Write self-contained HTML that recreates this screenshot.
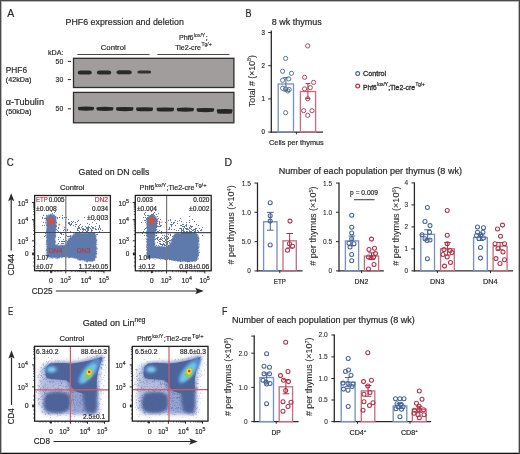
<!DOCTYPE html>
<html><head><meta charset="utf-8"><style>
html,body{margin:0;padding:0;background:#fff;}
body{width:520px;height:454px;overflow:hidden;position:relative;}
svg{position:absolute;left:0;top:0;font-family:'Liberation Sans', sans-serif;will-change:transform;}
#frame{position:absolute;left:0;top:0;width:518px;height:452px;border-left:1px solid #4a4a4a;border-top:1px solid #4a4a4a;border-right:1px solid #444;border-bottom:1px solid #151515;}
#frame2{position:absolute;left:1px;top:1px;width:516px;height:450px;border:1px solid #b8b8b8;}
</style></head><body>
<svg width="520" height="454" viewBox="0 0 520 454" fill="#2a2a2a">
<defs><filter id="bl" x="-30%" y="-100%" width="160%" height="300%"><feGaussianBlur stdDeviation="0.7"/></filter><filter id="bl2" x="-30%" y="-100%" width="160%" height="300%"><feGaussianBlur stdDeviation="0.75"/></filter><filter id="eb2" x="-50%" y="-50%" width="200%" height="200%"><feGaussianBlur stdDeviation="0.9"/></filter><filter id="eb3" x="-50%" y="-50%" width="200%" height="200%"><feGaussianBlur stdDeviation="0.45"/></filter><filter id="ef1" x="-20%" y="-20%" width="140%" height="140%"><feGaussianBlur stdDeviation="2.2"/></filter><filter id="ef2" x="-20%" y="-20%" width="140%" height="140%"><feGaussianBlur stdDeviation="1.4"/></filter><filter id="ef3" x="-20%" y="-20%" width="140%" height="140%"><feGaussianBlur stdDeviation="0.7"/></filter><clipPath id="ec0"><rect x="34.60" y="346.30" width="74.30" height="74.90"/></clipPath><clipPath id="ec1"><rect x="132.30" y="346.40" width="75.70" height="74.70"/></clipPath></defs>
<text x="7.20" y="16.70" font-size="11" textLength="7.00" lengthAdjust="spacingAndGlyphs" stroke="#2a2a2a" stroke-width="0.2">A</text>
<text x="65.60" y="25.40" font-size="9.4" textLength="118.20" lengthAdjust="spacingAndGlyphs" stroke="#2a2a2a" stroke-width="0.2">PHF6 expression and deletion</text>
<text x="100.80" y="49.60" font-size="8" textLength="24.90" lengthAdjust="spacingAndGlyphs" stroke="#2a2a2a" stroke-width="0.2">Control</text>
<text x="178.90" y="40.40" font-size="8.0" textLength="14.70" lengthAdjust="spacingAndGlyphs" stroke="#2a2a2a" stroke-width="0.2">Phf6</text>
<text x="194.00" y="37.04" font-size="5.76" textLength="11.20" lengthAdjust="spacingAndGlyphs" stroke="#2a2a2a" stroke-width="0.16000000000000003">lox/Y</text>
<text x="205.40" y="40.40" font-size="8.0" textLength="2.40" lengthAdjust="spacingAndGlyphs" stroke="#2a2a2a" stroke-width="0.2">;</text>
<text x="175.20" y="49.60" font-size="8.0" textLength="25.80" lengthAdjust="spacingAndGlyphs" stroke="#2a2a2a" stroke-width="0.2">Tie2-cre</text>
<text x="201.40" y="46.24" font-size="5.76" textLength="10.20" lengthAdjust="spacingAndGlyphs" stroke="#2a2a2a" stroke-width="0.16000000000000003">Tg/+</text>
<line x1="77.30" y1="54.50" x2="149.60" y2="54.50" stroke="#4a4a4a" stroke-width="1.2"/>
<line x1="157.30" y1="54.50" x2="229.50" y2="54.50" stroke="#4a4a4a" stroke-width="1.2"/>
<text x="48.00" y="54.80" font-size="7.6" textLength="15.50" lengthAdjust="spacingAndGlyphs" stroke="#2a2a2a" stroke-width="0.2">kDA:</text>
<text x="63.20" y="64.00" font-size="7.4" text-anchor="end" textLength="7.60" lengthAdjust="spacingAndGlyphs" stroke="#2a2a2a" stroke-width="0.2">50</text>
<text x="63.20" y="82.20" font-size="7.4" text-anchor="end" textLength="7.60" lengthAdjust="spacingAndGlyphs" stroke="#2a2a2a" stroke-width="0.2">30</text>
<text x="63.20" y="111.30" font-size="7.4" text-anchor="end" textLength="7.60" lengthAdjust="spacingAndGlyphs" stroke="#2a2a2a" stroke-width="0.2">50</text>
<line x1="67.80" y1="61.40" x2="71.00" y2="61.40" stroke="#2a2a2a" stroke-width="1"/>
<line x1="67.80" y1="79.60" x2="71.00" y2="79.60" stroke="#2a2a2a" stroke-width="1"/>
<line x1="67.80" y1="108.80" x2="71.00" y2="108.80" stroke="#2a2a2a" stroke-width="1"/>
<text x="5.80" y="72.70" font-size="9" textLength="21.20" lengthAdjust="spacingAndGlyphs" stroke="#2a2a2a" stroke-width="0.2">PHF6</text>
<text x="5.80" y="81.90" font-size="7.4" textLength="25.60" lengthAdjust="spacingAndGlyphs" stroke="#2a2a2a" stroke-width="0.2">(42kDa)</text>
<text x="5.80" y="104.80" font-size="9" textLength="38.20" lengthAdjust="spacingAndGlyphs" stroke="#2a2a2a" stroke-width="0.2">α-Tubulin</text>
<text x="5.80" y="113.80" font-size="7.4" textLength="25.60" lengthAdjust="spacingAndGlyphs" stroke="#2a2a2a" stroke-width="0.2">(50kDa)</text>
<rect x="73.50" y="58.30" width="160.40" height="29.20" fill="#a09d9c" stroke="#2d2d2d" stroke-width="1.3"/>
<rect x="73.50" y="92.40" width="160.40" height="30.40" fill="#a09d9c" stroke="#2d2d2d" stroke-width="1.3"/>
<rect x="77.80" y="70.50" width="13.90" height="4.0" rx="2.80" ry="2.00" fill="#2b2b2b" opacity="1.0" filter="url(#bl2)"/>
<rect x="96.90" y="70.50" width="14.30" height="4.0" rx="2.80" ry="2.00" fill="#2b2b2b" opacity="1.0" filter="url(#bl2)"/>
<rect x="116.60" y="70.30" width="15.10" height="4.0" rx="2.80" ry="2.00" fill="#2b2b2b" opacity="1.0" filter="url(#bl2)"/>
<rect x="137.40" y="70.60" width="13.80" height="3.0" rx="2.10" ry="1.50" fill="#2b2b2b" opacity="0.92" filter="url(#bl2)"/>
<path d="M78.20 106.95Q86.00 106.25 93.80 106.95Q94.60 108.60 93.20 110.35Q86.00 111.15 78.80 110.35Q77.40 108.60 78.20 106.95Z" fill="#262626" filter="url(#bl2)"/>
<path d="M96.60 107.15Q104.90 106.45 113.20 107.15Q114.00 108.80 112.60 110.55Q104.90 111.35 97.20 110.55Q95.80 108.80 96.60 107.15Z" fill="#262626" filter="url(#bl2)"/>
<path d="M116.30 107.35Q124.75 106.65 133.20 107.35Q134.00 109.00 132.60 110.75Q124.75 111.55 116.90 110.75Q115.50 109.00 116.30 107.35Z" fill="#262626" filter="url(#bl2)"/>
<path d="M136.30 107.55Q144.55 106.85 152.80 107.55Q153.60 109.20 152.20 110.95Q144.55 111.75 136.90 110.95Q135.50 109.20 136.30 107.55Z" fill="#262626" filter="url(#bl2)"/>
<path d="M156.80 107.75Q165.30 107.05 173.80 107.75Q174.60 109.40 173.20 111.15Q165.30 111.95 157.40 111.15Q156.00 109.40 156.80 107.75Z" fill="#262626" filter="url(#bl2)"/>
<path d="M177.00 107.95Q185.35 107.25 193.70 107.95Q194.50 109.60 193.10 111.35Q185.35 112.15 177.60 111.35Q176.20 109.60 177.00 107.95Z" fill="#262626" filter="url(#bl2)"/>
<path d="M196.90 108.35Q205.40 107.65 213.90 108.35Q214.70 110.00 213.30 111.75Q205.40 112.55 197.50 111.75Q196.10 110.00 196.90 108.35Z" fill="#262626" filter="url(#bl2)"/>
<path d="M217.00 109.30Q224.65 108.60 232.30 109.30Q233.10 111.30 231.70 113.40Q224.65 114.20 217.60 113.40Q216.20 111.30 217.00 109.30Z" fill="#262626" filter="url(#bl2)"/>
<text x="245.60" y="16.50" font-size="10" textLength="6.00" lengthAdjust="spacingAndGlyphs" stroke="#2a2a2a" stroke-width="0.2">B</text>
<text x="271.80" y="24.80" font-size="8.6" textLength="50.00" lengthAdjust="spacingAndGlyphs" stroke="#2a2a2a" stroke-width="0.2">8 wk thymus</text>
<line x1="271.30" y1="30.60" x2="271.30" y2="132.70" stroke="#2a2a2a" stroke-width="1.3"/>
<line x1="270.70" y1="132.10" x2="323.00" y2="132.10" stroke="#2a2a2a" stroke-width="1.3"/>
<line x1="268.20" y1="132.10" x2="271.30" y2="132.10" stroke="#2a2a2a" stroke-width="1"/>
<text x="264.80" y="134.40" font-size="6.6" text-anchor="end" textLength="3.40" lengthAdjust="spacingAndGlyphs" stroke="#2a2a2a" stroke-width="0.2">0</text>
<line x1="268.20" y1="98.90" x2="271.30" y2="98.90" stroke="#2a2a2a" stroke-width="1"/>
<text x="264.80" y="101.20" font-size="6.6" text-anchor="end" textLength="3.40" lengthAdjust="spacingAndGlyphs" stroke="#2a2a2a" stroke-width="0.2">1</text>
<line x1="268.20" y1="65.70" x2="271.30" y2="65.70" stroke="#2a2a2a" stroke-width="1"/>
<text x="264.80" y="68.00" font-size="6.6" text-anchor="end" textLength="3.40" lengthAdjust="spacingAndGlyphs" stroke="#2a2a2a" stroke-width="0.2">2</text>
<line x1="268.20" y1="32.50" x2="271.30" y2="32.50" stroke="#2a2a2a" stroke-width="1"/>
<text x="264.80" y="34.80" font-size="6.6" text-anchor="end" textLength="3.40" lengthAdjust="spacingAndGlyphs" stroke="#2a2a2a" stroke-width="0.2">3</text>
<line x1="296.40" y1="132.10" x2="296.40" y2="134.30" stroke="#2a2a2a" stroke-width="1"/>
<text x="269.00" y="145.00" font-size="7.6" textLength="54.80" lengthAdjust="spacingAndGlyphs" stroke="#2a2a2a" stroke-width="0.2">Cells per thymus</text>
<text x="254.60" y="107.00" font-size="8.2" textLength="52.00" lengthAdjust="spacingAndGlyphs" transform="rotate(-90 254.60 107.00)" stroke="#2a2a2a" stroke-width="0.08"><tspan>Total # (×10</tspan><tspan dy="-3.12" font-size="5.08">8</tspan><tspan dy="3.12">)</tspan></text>
<rect x="278.20" y="84.00" width="15.30" height="48.10" fill="none" stroke="#7b92bc" stroke-width="1.35"/>
<rect x="300.40" y="91.50" width="15.20" height="40.60" fill="none" stroke="#c8707f" stroke-width="1.35"/>
<line x1="285.90" y1="77.60" x2="285.90" y2="91.00" stroke="#476494" stroke-width="1"/>
<line x1="283.40" y1="77.60" x2="288.40" y2="77.60" stroke="#476494" stroke-width="1"/>
<line x1="283.40" y1="91.00" x2="288.40" y2="91.00" stroke="#476494" stroke-width="1"/>
<line x1="307.90" y1="83.60" x2="307.90" y2="98.60" stroke="#ad3249" stroke-width="1"/>
<line x1="305.40" y1="83.60" x2="310.40" y2="83.60" stroke="#ad3249" stroke-width="1"/>
<line x1="305.40" y1="98.60" x2="310.40" y2="98.60" stroke="#ad3249" stroke-width="1"/>
<circle cx="285.60" cy="58.40" r="2.1" fill="none" stroke="#476494" stroke-width="0.9"/>
<circle cx="282.60" cy="71.20" r="2.1" fill="none" stroke="#476494" stroke-width="0.9"/>
<circle cx="291.50" cy="73.30" r="2.1" fill="none" stroke="#476494" stroke-width="0.9"/>
<circle cx="282.60" cy="80.20" r="2.1" fill="none" stroke="#476494" stroke-width="0.9"/>
<circle cx="288.80" cy="78.90" r="2.1" fill="none" stroke="#476494" stroke-width="0.9"/>
<circle cx="282.60" cy="88.20" r="2.1" fill="none" stroke="#476494" stroke-width="0.9"/>
<circle cx="285.60" cy="88.90" r="2.1" fill="none" stroke="#476494" stroke-width="0.9"/>
<circle cx="287.80" cy="90.90" r="2.1" fill="none" stroke="#476494" stroke-width="0.9"/>
<circle cx="289.20" cy="89.50" r="2.1" fill="none" stroke="#476494" stroke-width="0.9"/>
<circle cx="285.60" cy="112.70" r="2.1" fill="none" stroke="#476494" stroke-width="0.9"/>
<circle cx="307.70" cy="45.90" r="2.1" fill="none" stroke="#ad3249" stroke-width="0.9"/>
<circle cx="304.60" cy="77.30" r="2.1" fill="none" stroke="#ad3249" stroke-width="0.9"/>
<circle cx="313.60" cy="82.40" r="2.1" fill="none" stroke="#ad3249" stroke-width="0.9"/>
<circle cx="304.60" cy="88.90" r="2.1" fill="none" stroke="#ad3249" stroke-width="0.9"/>
<circle cx="310.30" cy="87.60" r="2.1" fill="none" stroke="#ad3249" stroke-width="0.9"/>
<circle cx="307.70" cy="98.80" r="2.1" fill="none" stroke="#ad3249" stroke-width="0.9"/>
<circle cx="303.70" cy="110.70" r="2.1" fill="none" stroke="#ad3249" stroke-width="0.9"/>
<circle cx="312.00" cy="110.70" r="2.1" fill="none" stroke="#ad3249" stroke-width="0.9"/>
<circle cx="307.70" cy="115.30" r="2.1" fill="none" stroke="#ad3249" stroke-width="0.9"/>
<circle cx="357.70" cy="73.60" r="1.9" fill="none" stroke="#476494" stroke-width="1.2"/>
<circle cx="357.70" cy="86.10" r="1.9" fill="none" stroke="#ad3249" stroke-width="1.2"/>
<text x="363.10" y="76.10" font-size="7.4" textLength="23.10" lengthAdjust="spacingAndGlyphs" stroke="#2a2a2a" stroke-width="0.3">Control</text>
<text x="363.10" y="89.60" font-size="7.4" textLength="13.70" lengthAdjust="spacingAndGlyphs" stroke="#2a2a2a" stroke-width="0.3">Phf6</text>
<text x="377.20" y="86.49" font-size="5.328" textLength="10.80" lengthAdjust="spacingAndGlyphs" stroke="#2a2a2a" stroke-width="0.24">lox/Y</text>
<text x="388.20" y="89.60" font-size="7.4" textLength="27.00" lengthAdjust="spacingAndGlyphs" stroke="#2a2a2a" stroke-width="0.3">;Tie2-cre</text>
<text x="415.50" y="86.49" font-size="5.328" textLength="9.20" lengthAdjust="spacingAndGlyphs" stroke="#2a2a2a" stroke-width="0.24">Tg/+</text>
<text x="224.60" y="165.60" font-size="10.4" textLength="7.60" lengthAdjust="spacingAndGlyphs" stroke="#2a2a2a" stroke-width="0.2">D</text>
<text x="278.80" y="173.60" font-size="8.8" textLength="183.20" lengthAdjust="spacingAndGlyphs" stroke="#2a2a2a" stroke-width="0.2">Number of each population per thymus (8 wk)</text>
<line x1="257.50" y1="182.60" x2="257.50" y2="271.50" stroke="#2a2a2a" stroke-width="1.3"/>
<line x1="256.90" y1="270.90" x2="302.50" y2="270.90" stroke="#2a2a2a" stroke-width="1.3"/>
<line x1="254.50" y1="270.90" x2="257.50" y2="270.90" stroke="#2a2a2a" stroke-width="1"/>
<text x="250.90" y="273.30" font-size="7.0" text-anchor="end" textLength="3.60" lengthAdjust="spacingAndGlyphs" stroke="#2a2a2a" stroke-width="0.1">0</text>
<line x1="254.50" y1="241.60" x2="257.50" y2="241.60" stroke="#2a2a2a" stroke-width="1"/>
<text x="250.90" y="244.00" font-size="7.0" text-anchor="end" textLength="9.20" lengthAdjust="spacingAndGlyphs" stroke="#2a2a2a" stroke-width="0.1">5.0</text>
<line x1="254.50" y1="212.30" x2="257.50" y2="212.30" stroke="#2a2a2a" stroke-width="1"/>
<text x="250.90" y="214.70" font-size="7.0" text-anchor="end" textLength="9.20" lengthAdjust="spacingAndGlyphs" stroke="#2a2a2a" stroke-width="0.1">1.0</text>
<line x1="254.50" y1="183.10" x2="257.50" y2="183.10" stroke="#2a2a2a" stroke-width="1"/>
<text x="250.90" y="185.50" font-size="7.0" text-anchor="end" textLength="9.20" lengthAdjust="spacingAndGlyphs" stroke="#2a2a2a" stroke-width="0.1">1.5</text>
<line x1="279.80" y1="270.90" x2="279.80" y2="273.10" stroke="#2a2a2a" stroke-width="1"/>
<text x="234.20" y="264.60" font-size="8.4" textLength="79.30" lengthAdjust="spacingAndGlyphs" transform="rotate(-90 234.20 264.60)" stroke="#2a2a2a" stroke-width="0.06"><tspan># per thymus (×10</tspan><tspan dy="-3.19" font-size="5.21">4</tspan><tspan dy="3.19">)</tspan></text>
<text x="273.80" y="283.60" font-size="7.0" textLength="12.00" lengthAdjust="spacingAndGlyphs" stroke="#2a2a2a" stroke-width="0.2">ETP</text>
<rect x="263.60" y="221.80" width="13.40" height="49.10" fill="none" stroke="#7b92bc" stroke-width="1.35"/>
<line x1="270.30" y1="212.40" x2="270.30" y2="230.20" stroke="#476494" stroke-width="1"/>
<line x1="267.00" y1="212.40" x2="273.60" y2="212.40" stroke="#476494" stroke-width="1"/>
<line x1="267.00" y1="230.20" x2="273.60" y2="230.20" stroke="#476494" stroke-width="1"/>
<circle cx="270.20" cy="202.80" r="2.0" fill="none" stroke="#476494" stroke-width="1.05"/>
<circle cx="270.20" cy="215.70" r="2.0" fill="none" stroke="#476494" stroke-width="1.05"/>
<circle cx="270.20" cy="221.10" r="2.0" fill="none" stroke="#476494" stroke-width="1.05"/>
<circle cx="270.20" cy="244.90" r="2.0" fill="none" stroke="#476494" stroke-width="1.05"/>
<rect x="283.00" y="240.80" width="13.30" height="30.10" fill="none" stroke="#c8707f" stroke-width="1.35"/>
<line x1="289.65" y1="233.50" x2="289.65" y2="248.00" stroke="#ad3249" stroke-width="1"/>
<line x1="286.35" y1="233.50" x2="292.95" y2="233.50" stroke="#ad3249" stroke-width="1"/>
<line x1="286.35" y1="248.00" x2="292.95" y2="248.00" stroke="#ad3249" stroke-width="1"/>
<circle cx="290.00" cy="221.10" r="2.0" fill="none" stroke="#ad3249" stroke-width="1.05"/>
<circle cx="289.50" cy="243.70" r="2.0" fill="none" stroke="#ad3249" stroke-width="1.05"/>
<circle cx="292.50" cy="246.20" r="2.0" fill="none" stroke="#ad3249" stroke-width="1.05"/>
<circle cx="287.50" cy="250.30" r="2.0" fill="none" stroke="#ad3249" stroke-width="1.05"/>
<line x1="339.00" y1="182.60" x2="339.00" y2="271.50" stroke="#2a2a2a" stroke-width="1.3"/>
<line x1="338.40" y1="270.90" x2="383.90" y2="270.90" stroke="#2a2a2a" stroke-width="1.3"/>
<line x1="336.00" y1="270.90" x2="339.00" y2="270.90" stroke="#2a2a2a" stroke-width="1"/>
<text x="332.20" y="273.30" font-size="7.0" text-anchor="end" textLength="3.60" lengthAdjust="spacingAndGlyphs" stroke="#2a2a2a" stroke-width="0.1">0</text>
<line x1="336.00" y1="241.60" x2="339.00" y2="241.60" stroke="#2a2a2a" stroke-width="1"/>
<text x="332.20" y="244.00" font-size="7.0" text-anchor="end" textLength="9.20" lengthAdjust="spacingAndGlyphs" stroke="#2a2a2a" stroke-width="0.1">0.5</text>
<line x1="336.00" y1="212.30" x2="339.00" y2="212.30" stroke="#2a2a2a" stroke-width="1"/>
<text x="332.20" y="214.70" font-size="7.0" text-anchor="end" textLength="9.20" lengthAdjust="spacingAndGlyphs" stroke="#2a2a2a" stroke-width="0.1">1.0</text>
<line x1="336.00" y1="183.10" x2="339.00" y2="183.10" stroke="#2a2a2a" stroke-width="1"/>
<text x="332.20" y="185.50" font-size="7.0" text-anchor="end" textLength="9.20" lengthAdjust="spacingAndGlyphs" stroke="#2a2a2a" stroke-width="0.1">1.5</text>
<line x1="361.60" y1="270.90" x2="361.60" y2="273.10" stroke="#2a2a2a" stroke-width="1"/>
<text x="316.40" y="265.70" font-size="8.4" textLength="79.30" lengthAdjust="spacingAndGlyphs" transform="rotate(-90 316.40 265.70)" stroke="#2a2a2a" stroke-width="0.06"><tspan># per thymus (×10</tspan><tspan dy="-3.19" font-size="5.21">5</tspan><tspan dy="3.19">)</tspan></text>
<text x="354.50" y="283.60" font-size="7.0" textLength="13.90" lengthAdjust="spacingAndGlyphs" stroke="#2a2a2a" stroke-width="0.2">DN2</text>
<rect x="345.40" y="240.90" width="13.20" height="30.00" fill="none" stroke="#7b92bc" stroke-width="1.35"/>
<line x1="352.00" y1="236.00" x2="352.00" y2="245.80" stroke="#476494" stroke-width="1"/>
<line x1="348.70" y1="236.00" x2="355.30" y2="236.00" stroke="#476494" stroke-width="1"/>
<line x1="348.70" y1="245.80" x2="355.30" y2="245.80" stroke="#476494" stroke-width="1"/>
<circle cx="351.70" cy="215.20" r="2.0" fill="none" stroke="#476494" stroke-width="1.05"/>
<circle cx="351.70" cy="227.20" r="2.0" fill="none" stroke="#476494" stroke-width="1.05"/>
<circle cx="351.70" cy="233.00" r="2.0" fill="none" stroke="#476494" stroke-width="1.05"/>
<circle cx="351.70" cy="238.80" r="2.0" fill="none" stroke="#476494" stroke-width="1.05"/>
<circle cx="349.00" cy="243.20" r="2.0" fill="none" stroke="#476494" stroke-width="1.05"/>
<circle cx="354.00" cy="243.70" r="2.0" fill="none" stroke="#476494" stroke-width="1.05"/>
<circle cx="350.00" cy="247.00" r="2.0" fill="none" stroke="#476494" stroke-width="1.05"/>
<circle cx="351.70" cy="254.50" r="2.0" fill="none" stroke="#476494" stroke-width="1.05"/>
<circle cx="351.70" cy="260.70" r="2.0" fill="none" stroke="#476494" stroke-width="1.05"/>
<rect x="364.40" y="256.10" width="14.20" height="14.80" fill="none" stroke="#c8707f" stroke-width="1.35"/>
<line x1="371.50" y1="252.80" x2="371.50" y2="259.40" stroke="#ad3249" stroke-width="1"/>
<line x1="368.20" y1="252.80" x2="374.80" y2="252.80" stroke="#ad3249" stroke-width="1"/>
<line x1="368.20" y1="259.40" x2="374.80" y2="259.40" stroke="#ad3249" stroke-width="1"/>
<circle cx="371.50" cy="239.10" r="2.0" fill="none" stroke="#ad3249" stroke-width="1.05"/>
<circle cx="369.00" cy="249.50" r="2.0" fill="none" stroke="#ad3249" stroke-width="1.05"/>
<circle cx="374.50" cy="248.30" r="2.0" fill="none" stroke="#ad3249" stroke-width="1.05"/>
<circle cx="375.50" cy="253.60" r="2.0" fill="none" stroke="#ad3249" stroke-width="1.05"/>
<circle cx="368.50" cy="256.90" r="2.0" fill="none" stroke="#ad3249" stroke-width="1.05"/>
<circle cx="371.00" cy="257.80" r="2.0" fill="none" stroke="#ad3249" stroke-width="1.05"/>
<circle cx="373.50" cy="256.90" r="2.0" fill="none" stroke="#ad3249" stroke-width="1.05"/>
<circle cx="374.00" cy="264.40" r="2.0" fill="none" stroke="#ad3249" stroke-width="1.05"/>
<circle cx="368.50" cy="269.00" r="2.0" fill="none" stroke="#ad3249" stroke-width="1.05"/>
<text x="350.10" y="194.90" font-size="6.6" textLength="27.90" lengthAdjust="spacingAndGlyphs" stroke="#2a2a2a" stroke-width="0.2">p = 0.009</text>
<line x1="354.00" y1="199.70" x2="374.60" y2="199.70" stroke="#444" stroke-width="1.1"/>
<line x1="414.40" y1="182.40" x2="414.40" y2="271.50" stroke="#2a2a2a" stroke-width="1.3"/>
<line x1="413.80" y1="270.90" x2="513.10" y2="270.90" stroke="#2a2a2a" stroke-width="1.3"/>
<line x1="411.40" y1="270.90" x2="414.40" y2="270.90" stroke="#2a2a2a" stroke-width="1"/>
<text x="408.00" y="273.30" font-size="7.0" text-anchor="end" textLength="3.60" lengthAdjust="spacingAndGlyphs" stroke="#2a2a2a" stroke-width="0.1">0</text>
<line x1="411.40" y1="248.90" x2="414.40" y2="248.90" stroke="#2a2a2a" stroke-width="1"/>
<text x="408.00" y="251.30" font-size="7.0" text-anchor="end" textLength="3.60" lengthAdjust="spacingAndGlyphs" stroke="#2a2a2a" stroke-width="0.1">1</text>
<line x1="411.40" y1="226.90" x2="414.40" y2="226.90" stroke="#2a2a2a" stroke-width="1"/>
<text x="408.00" y="229.30" font-size="7.0" text-anchor="end" textLength="3.60" lengthAdjust="spacingAndGlyphs" stroke="#2a2a2a" stroke-width="0.1">2</text>
<line x1="411.40" y1="204.90" x2="414.40" y2="204.90" stroke="#2a2a2a" stroke-width="1"/>
<text x="408.00" y="207.30" font-size="7.0" text-anchor="end" textLength="3.60" lengthAdjust="spacingAndGlyphs" stroke="#2a2a2a" stroke-width="0.1">3</text>
<line x1="411.40" y1="182.90" x2="414.40" y2="182.90" stroke="#2a2a2a" stroke-width="1"/>
<text x="408.00" y="185.30" font-size="7.0" text-anchor="end" textLength="3.60" lengthAdjust="spacingAndGlyphs" stroke="#2a2a2a" stroke-width="0.1">4</text>
<line x1="437.40" y1="270.90" x2="437.40" y2="273.10" stroke="#2a2a2a" stroke-width="1"/>
<line x1="490.50" y1="270.90" x2="490.50" y2="273.10" stroke="#2a2a2a" stroke-width="1"/>
<text x="399.20" y="265.70" font-size="8.4" textLength="79.30" lengthAdjust="spacingAndGlyphs" transform="rotate(-90 399.20 265.70)" stroke="#2a2a2a" stroke-width="0.06"><tspan># per thymus (×10</tspan><tspan dy="-3.19" font-size="5.21">6</tspan><tspan dy="3.19">)</tspan></text>
<text x="430.00" y="283.60" font-size="7.0" textLength="14.50" lengthAdjust="spacingAndGlyphs" stroke="#2a2a2a" stroke-width="0.2">DN3</text>
<text x="483.00" y="283.60" font-size="7.0" textLength="14.60" lengthAdjust="spacingAndGlyphs" stroke="#2a2a2a" stroke-width="0.2">DN4</text>
<rect x="420.80" y="234.40" width="13.70" height="36.50" fill="none" stroke="#7b92bc" stroke-width="1.35"/>
<line x1="427.65" y1="229.80" x2="427.65" y2="239.00" stroke="#476494" stroke-width="1"/>
<line x1="424.35" y1="229.80" x2="430.95" y2="229.80" stroke="#476494" stroke-width="1"/>
<line x1="424.35" y1="239.00" x2="430.95" y2="239.00" stroke="#476494" stroke-width="1"/>
<circle cx="427.40" cy="207.40" r="2.0" fill="none" stroke="#476494" stroke-width="1.05"/>
<circle cx="425.00" cy="221.50" r="2.0" fill="none" stroke="#476494" stroke-width="1.05"/>
<circle cx="430.00" cy="225.60" r="2.0" fill="none" stroke="#476494" stroke-width="1.05"/>
<circle cx="429.50" cy="232.20" r="2.0" fill="none" stroke="#476494" stroke-width="1.05"/>
<circle cx="422.00" cy="234.70" r="2.0" fill="none" stroke="#476494" stroke-width="1.05"/>
<circle cx="425.00" cy="238.80" r="2.0" fill="none" stroke="#476494" stroke-width="1.05"/>
<circle cx="427.00" cy="240.50" r="2.0" fill="none" stroke="#476494" stroke-width="1.05"/>
<circle cx="430.00" cy="240.00" r="2.0" fill="none" stroke="#476494" stroke-width="1.05"/>
<circle cx="427.40" cy="258.70" r="2.0" fill="none" stroke="#476494" stroke-width="1.05"/>
<rect x="440.60" y="248.80" width="13.70" height="22.10" fill="none" stroke="#c8707f" stroke-width="1.35"/>
<line x1="447.45" y1="242.60" x2="447.45" y2="255.00" stroke="#ad3249" stroke-width="1"/>
<line x1="444.15" y1="242.60" x2="450.75" y2="242.60" stroke="#ad3249" stroke-width="1"/>
<line x1="444.15" y1="255.00" x2="450.75" y2="255.00" stroke="#ad3249" stroke-width="1"/>
<circle cx="447.20" cy="210.40" r="2.0" fill="none" stroke="#ad3249" stroke-width="1.05"/>
<circle cx="447.20" cy="235.20" r="2.0" fill="none" stroke="#ad3249" stroke-width="1.05"/>
<circle cx="447.20" cy="243.80" r="2.0" fill="none" stroke="#ad3249" stroke-width="1.05"/>
<circle cx="444.00" cy="249.60" r="2.0" fill="none" stroke="#ad3249" stroke-width="1.05"/>
<circle cx="450.00" cy="250.40" r="2.0" fill="none" stroke="#ad3249" stroke-width="1.05"/>
<circle cx="452.00" cy="252.60" r="2.0" fill="none" stroke="#ad3249" stroke-width="1.05"/>
<circle cx="443.00" cy="254.50" r="2.0" fill="none" stroke="#ad3249" stroke-width="1.05"/>
<circle cx="447.20" cy="257.00" r="2.0" fill="none" stroke="#ad3249" stroke-width="1.05"/>
<circle cx="450.50" cy="262.50" r="2.0" fill="none" stroke="#ad3249" stroke-width="1.05"/>
<circle cx="444.50" cy="266.10" r="2.0" fill="none" stroke="#ad3249" stroke-width="1.05"/>
<rect x="473.60" y="237.50" width="13.70" height="33.40" fill="none" stroke="#7b92bc" stroke-width="1.35"/>
<line x1="480.45" y1="234.50" x2="480.45" y2="240.50" stroke="#476494" stroke-width="1"/>
<line x1="477.15" y1="234.50" x2="483.75" y2="234.50" stroke="#476494" stroke-width="1"/>
<line x1="477.15" y1="240.50" x2="483.75" y2="240.50" stroke="#476494" stroke-width="1"/>
<circle cx="477.50" cy="226.90" r="2.0" fill="none" stroke="#476494" stroke-width="1.05"/>
<circle cx="483.50" cy="227.70" r="2.0" fill="none" stroke="#476494" stroke-width="1.05"/>
<circle cx="477.50" cy="232.20" r="2.0" fill="none" stroke="#476494" stroke-width="1.05"/>
<circle cx="483.00" cy="232.20" r="2.0" fill="none" stroke="#476494" stroke-width="1.05"/>
<circle cx="476.50" cy="235.50" r="2.0" fill="none" stroke="#476494" stroke-width="1.05"/>
<circle cx="481.00" cy="234.70" r="2.0" fill="none" stroke="#476494" stroke-width="1.05"/>
<circle cx="483.50" cy="238.00" r="2.0" fill="none" stroke="#476494" stroke-width="1.05"/>
<circle cx="479.00" cy="238.40" r="2.0" fill="none" stroke="#476494" stroke-width="1.05"/>
<circle cx="480.50" cy="247.50" r="2.0" fill="none" stroke="#476494" stroke-width="1.05"/>
<circle cx="480.50" cy="258.10" r="2.0" fill="none" stroke="#476494" stroke-width="1.05"/>
<rect x="493.10" y="246.20" width="14.00" height="24.70" fill="none" stroke="#c8707f" stroke-width="1.35"/>
<line x1="500.10" y1="242.60" x2="500.10" y2="249.80" stroke="#ad3249" stroke-width="1"/>
<line x1="496.80" y1="242.60" x2="503.40" y2="242.60" stroke="#ad3249" stroke-width="1"/>
<line x1="496.80" y1="249.80" x2="503.40" y2="249.80" stroke="#ad3249" stroke-width="1"/>
<circle cx="502.50" cy="225.10" r="2.0" fill="none" stroke="#ad3249" stroke-width="1.05"/>
<circle cx="497.50" cy="228.90" r="2.0" fill="none" stroke="#ad3249" stroke-width="1.05"/>
<circle cx="500.50" cy="236.30" r="2.0" fill="none" stroke="#ad3249" stroke-width="1.05"/>
<circle cx="495.00" cy="243.70" r="2.0" fill="none" stroke="#ad3249" stroke-width="1.05"/>
<circle cx="504.50" cy="243.70" r="2.0" fill="none" stroke="#ad3249" stroke-width="1.05"/>
<circle cx="498.00" cy="248.70" r="2.0" fill="none" stroke="#ad3249" stroke-width="1.05"/>
<circle cx="503.00" cy="252.00" r="2.0" fill="none" stroke="#ad3249" stroke-width="1.05"/>
<circle cx="496.00" cy="258.60" r="2.0" fill="none" stroke="#ad3249" stroke-width="1.05"/>
<circle cx="504.50" cy="259.70" r="2.0" fill="none" stroke="#ad3249" stroke-width="1.05"/>
<circle cx="500.00" cy="263.50" r="2.0" fill="none" stroke="#ad3249" stroke-width="1.05"/>
<text x="222.00" y="315.00" font-size="10" textLength="5.40" lengthAdjust="spacingAndGlyphs" stroke="#2a2a2a" stroke-width="0.2">F</text>
<text x="231.90" y="323.40" font-size="8.8" textLength="183.00" lengthAdjust="spacingAndGlyphs" stroke="#2a2a2a" stroke-width="0.2">Number of each population per thymus (8 wk)</text>
<line x1="254.20" y1="335.60" x2="254.20" y2="422.20" stroke="#2a2a2a" stroke-width="1.3"/>
<line x1="253.60" y1="421.60" x2="298.60" y2="421.60" stroke="#2a2a2a" stroke-width="1.3"/>
<line x1="251.20" y1="421.60" x2="254.20" y2="421.60" stroke="#2a2a2a" stroke-width="1"/>
<text x="247.60" y="424.00" font-size="7.0" text-anchor="end" textLength="3.60" lengthAdjust="spacingAndGlyphs" stroke="#2a2a2a" stroke-width="0.1">0</text>
<line x1="251.20" y1="387.40" x2="254.20" y2="387.40" stroke="#2a2a2a" stroke-width="1"/>
<text x="247.60" y="389.80" font-size="7.0" text-anchor="end" textLength="9.20" lengthAdjust="spacingAndGlyphs" stroke="#2a2a2a" stroke-width="0.1">1.0</text>
<line x1="251.20" y1="353.20" x2="254.20" y2="353.20" stroke="#2a2a2a" stroke-width="1"/>
<text x="247.60" y="355.60" font-size="7.0" text-anchor="end" textLength="9.20" lengthAdjust="spacingAndGlyphs" stroke="#2a2a2a" stroke-width="0.1">2.0</text>
<line x1="251.20" y1="336.10" x2="254.20" y2="336.10" stroke="#2a2a2a" stroke-width="1"/>
<line x1="276.20" y1="421.60" x2="276.20" y2="423.80" stroke="#2a2a2a" stroke-width="1"/>
<text x="231.40" y="416.10" font-size="8.4" textLength="78.60" lengthAdjust="spacingAndGlyphs" transform="rotate(-90 231.40 416.10)" stroke="#2a2a2a" stroke-width="0.06"><tspan># per thymus (×10</tspan><tspan dy="-3.19" font-size="5.21">8</tspan><tspan dy="3.19">)</tspan></text>
<text x="271.50" y="434.60" font-size="7.0" textLength="9.30" lengthAdjust="spacingAndGlyphs" stroke="#2a2a2a" stroke-width="0.2">DP</text>
<rect x="259.90" y="377.50" width="13.60" height="44.10" fill="none" stroke="#7b92bc" stroke-width="1.35"/>
<line x1="266.70" y1="373.00" x2="266.70" y2="382.00" stroke="#476494" stroke-width="1"/>
<line x1="263.40" y1="373.00" x2="270.00" y2="373.00" stroke="#476494" stroke-width="1"/>
<line x1="263.40" y1="382.00" x2="270.00" y2="382.00" stroke="#476494" stroke-width="1"/>
<circle cx="266.60" cy="353.70" r="2.0" fill="none" stroke="#476494" stroke-width="1.05"/>
<circle cx="264.00" cy="366.20" r="2.0" fill="none" stroke="#476494" stroke-width="1.05"/>
<circle cx="269.50" cy="367.20" r="2.0" fill="none" stroke="#476494" stroke-width="1.05"/>
<circle cx="264.00" cy="373.70" r="2.0" fill="none" stroke="#476494" stroke-width="1.05"/>
<circle cx="269.50" cy="373.70" r="2.0" fill="none" stroke="#476494" stroke-width="1.05"/>
<circle cx="263.00" cy="380.30" r="2.0" fill="none" stroke="#476494" stroke-width="1.05"/>
<circle cx="266.00" cy="382.10" r="2.0" fill="none" stroke="#476494" stroke-width="1.05"/>
<circle cx="270.00" cy="383.40" r="2.0" fill="none" stroke="#476494" stroke-width="1.05"/>
<circle cx="266.60" cy="384.00" r="2.0" fill="none" stroke="#476494" stroke-width="1.05"/>
<circle cx="266.60" cy="403.70" r="2.0" fill="none" stroke="#476494" stroke-width="1.05"/>
<rect x="279.20" y="386.80" width="13.40" height="34.80" fill="none" stroke="#c8707f" stroke-width="1.35"/>
<line x1="285.90" y1="379.70" x2="285.90" y2="393.80" stroke="#ad3249" stroke-width="1"/>
<line x1="282.60" y1="379.70" x2="289.20" y2="379.70" stroke="#ad3249" stroke-width="1"/>
<line x1="282.60" y1="393.80" x2="289.20" y2="393.80" stroke="#ad3249" stroke-width="1"/>
<circle cx="285.70" cy="342.20" r="2.0" fill="none" stroke="#ad3249" stroke-width="1.05"/>
<circle cx="288.00" cy="371.50" r="2.0" fill="none" stroke="#ad3249" stroke-width="1.05"/>
<circle cx="280.50" cy="375.60" r="2.0" fill="none" stroke="#ad3249" stroke-width="1.05"/>
<circle cx="283.50" cy="380.30" r="2.0" fill="none" stroke="#ad3249" stroke-width="1.05"/>
<circle cx="288.50" cy="381.60" r="2.0" fill="none" stroke="#ad3249" stroke-width="1.05"/>
<circle cx="285.70" cy="390.60" r="2.0" fill="none" stroke="#ad3249" stroke-width="1.05"/>
<circle cx="283.00" cy="401.80" r="2.0" fill="none" stroke="#ad3249" stroke-width="1.05"/>
<circle cx="291.00" cy="402.20" r="2.0" fill="none" stroke="#ad3249" stroke-width="1.05"/>
<circle cx="288.00" cy="406.50" r="2.0" fill="none" stroke="#ad3249" stroke-width="1.05"/>
<circle cx="283.00" cy="411.20" r="2.0" fill="none" stroke="#ad3249" stroke-width="1.05"/>
<line x1="334.30" y1="334.50" x2="334.30" y2="422.20" stroke="#2a2a2a" stroke-width="1.3"/>
<line x1="333.70" y1="421.60" x2="431.10" y2="421.60" stroke="#2a2a2a" stroke-width="1.3"/>
<line x1="331.30" y1="421.60" x2="334.30" y2="421.60" stroke="#2a2a2a" stroke-width="1"/>
<text x="327.80" y="424.00" font-size="7.0" text-anchor="end" textLength="3.60" lengthAdjust="spacingAndGlyphs" stroke="#2a2a2a" stroke-width="0.1">0</text>
<line x1="331.30" y1="400.00" x2="334.30" y2="400.00" stroke="#2a2a2a" stroke-width="1"/>
<text x="327.80" y="402.40" font-size="7.0" text-anchor="end" textLength="9.20" lengthAdjust="spacingAndGlyphs" stroke="#2a2a2a" stroke-width="0.1">0.5</text>
<line x1="331.30" y1="378.50" x2="334.30" y2="378.50" stroke="#2a2a2a" stroke-width="1"/>
<text x="327.80" y="380.90" font-size="7.0" text-anchor="end" textLength="9.20" lengthAdjust="spacingAndGlyphs" stroke="#2a2a2a" stroke-width="0.1">1.0</text>
<line x1="331.30" y1="356.90" x2="334.30" y2="356.90" stroke="#2a2a2a" stroke-width="1"/>
<text x="327.80" y="359.30" font-size="7.0" text-anchor="end" textLength="9.20" lengthAdjust="spacingAndGlyphs" stroke="#2a2a2a" stroke-width="0.1">1.5</text>
<line x1="331.30" y1="335.00" x2="334.30" y2="335.00" stroke="#2a2a2a" stroke-width="1"/>
<text x="327.80" y="337.40" font-size="7.0" text-anchor="end" textLength="9.20" lengthAdjust="spacingAndGlyphs" stroke="#2a2a2a" stroke-width="0.1">2.0</text>
<line x1="357.50" y1="421.60" x2="357.50" y2="423.80" stroke="#2a2a2a" stroke-width="1"/>
<line x1="410.00" y1="421.60" x2="410.00" y2="423.80" stroke="#2a2a2a" stroke-width="1"/>
<text x="311.90" y="416.10" font-size="8.4" textLength="78.60" lengthAdjust="spacingAndGlyphs" transform="rotate(-90 311.90 416.10)" stroke="#2a2a2a" stroke-width="0.06"><tspan># per thymus (×10</tspan><tspan dy="-3.19" font-size="5.21">7</tspan><tspan dy="3.19">)</tspan></text>
<text x="349.50" y="434.50" font-size="7.0" textLength="16.90" lengthAdjust="spacingAndGlyphs" stroke="#2a2a2a" stroke-width="0.2"><tspan>CD4</tspan><tspan dy="-2.66" font-size="4.34">+</tspan></text>
<text x="400.90" y="434.50" font-size="7.0" textLength="16.90" lengthAdjust="spacingAndGlyphs" stroke="#2a2a2a" stroke-width="0.2"><tspan>CD8</tspan><tspan dy="-2.66" font-size="4.34">+</tspan></text>
<rect x="341.20" y="382.10" width="13.90" height="39.50" fill="none" stroke="#7b92bc" stroke-width="1.35"/>
<line x1="348.15" y1="377.50" x2="348.15" y2="386.70" stroke="#476494" stroke-width="1"/>
<line x1="344.85" y1="377.50" x2="351.45" y2="377.50" stroke="#476494" stroke-width="1"/>
<line x1="344.85" y1="386.70" x2="351.45" y2="386.70" stroke="#476494" stroke-width="1"/>
<circle cx="348.20" cy="358.40" r="2.0" fill="none" stroke="#476494" stroke-width="1.05"/>
<circle cx="345.50" cy="371.50" r="2.0" fill="none" stroke="#476494" stroke-width="1.05"/>
<circle cx="348.50" cy="370.00" r="2.0" fill="none" stroke="#476494" stroke-width="1.05"/>
<circle cx="351.00" cy="375.20" r="2.0" fill="none" stroke="#476494" stroke-width="1.05"/>
<circle cx="343.00" cy="383.10" r="2.0" fill="none" stroke="#476494" stroke-width="1.05"/>
<circle cx="348.00" cy="383.40" r="2.0" fill="none" stroke="#476494" stroke-width="1.05"/>
<circle cx="353.00" cy="384.00" r="2.0" fill="none" stroke="#476494" stroke-width="1.05"/>
<circle cx="343.50" cy="389.10" r="2.0" fill="none" stroke="#476494" stroke-width="1.05"/>
<circle cx="348.00" cy="390.20" r="2.0" fill="none" stroke="#476494" stroke-width="1.05"/>
<circle cx="352.00" cy="386.40" r="2.0" fill="none" stroke="#476494" stroke-width="1.05"/>
<circle cx="348.20" cy="406.50" r="2.0" fill="none" stroke="#476494" stroke-width="1.05"/>
<rect x="361.30" y="390.90" width="13.50" height="30.70" fill="none" stroke="#c8707f" stroke-width="1.35"/>
<line x1="368.05" y1="385.50" x2="368.05" y2="396.30" stroke="#ad3249" stroke-width="1"/>
<line x1="364.75" y1="385.50" x2="371.35" y2="385.50" stroke="#ad3249" stroke-width="1"/>
<line x1="364.75" y1="396.30" x2="371.35" y2="396.30" stroke="#ad3249" stroke-width="1"/>
<circle cx="367.80" cy="352.70" r="2.0" fill="none" stroke="#ad3249" stroke-width="1.05"/>
<circle cx="363.50" cy="381.60" r="2.0" fill="none" stroke="#ad3249" stroke-width="1.05"/>
<circle cx="371.50" cy="380.30" r="2.0" fill="none" stroke="#ad3249" stroke-width="1.05"/>
<circle cx="367.80" cy="385.90" r="2.0" fill="none" stroke="#ad3249" stroke-width="1.05"/>
<circle cx="364.00" cy="394.30" r="2.0" fill="none" stroke="#ad3249" stroke-width="1.05"/>
<circle cx="370.00" cy="392.40" r="2.0" fill="none" stroke="#ad3249" stroke-width="1.05"/>
<circle cx="364.00" cy="401.80" r="2.0" fill="none" stroke="#ad3249" stroke-width="1.05"/>
<circle cx="373.00" cy="402.70" r="2.0" fill="none" stroke="#ad3249" stroke-width="1.05"/>
<circle cx="369.50" cy="405.50" r="2.0" fill="none" stroke="#ad3249" stroke-width="1.05"/>
<circle cx="363.00" cy="410.20" r="2.0" fill="none" stroke="#ad3249" stroke-width="1.05"/>
<rect x="393.20" y="406.00" width="13.60" height="15.60" fill="none" stroke="#7b92bc" stroke-width="1.35"/>
<line x1="400.00" y1="403.50" x2="400.00" y2="408.50" stroke="#476494" stroke-width="1"/>
<line x1="396.70" y1="403.50" x2="403.30" y2="403.50" stroke="#476494" stroke-width="1"/>
<line x1="396.70" y1="408.50" x2="403.30" y2="408.50" stroke="#476494" stroke-width="1"/>
<circle cx="395.50" cy="398.80" r="2.0" fill="none" stroke="#476494" stroke-width="1.05"/>
<circle cx="399.90" cy="398.80" r="2.0" fill="none" stroke="#476494" stroke-width="1.05"/>
<circle cx="404.00" cy="398.80" r="2.0" fill="none" stroke="#476494" stroke-width="1.05"/>
<circle cx="397.00" cy="403.80" r="2.0" fill="none" stroke="#476494" stroke-width="1.05"/>
<circle cx="401.00" cy="404.30" r="2.0" fill="none" stroke="#476494" stroke-width="1.05"/>
<circle cx="398.00" cy="406.80" r="2.0" fill="none" stroke="#476494" stroke-width="1.05"/>
<circle cx="403.00" cy="406.80" r="2.0" fill="none" stroke="#476494" stroke-width="1.05"/>
<circle cx="396.00" cy="408.80" r="2.0" fill="none" stroke="#476494" stroke-width="1.05"/>
<circle cx="401.50" cy="409.30" r="2.0" fill="none" stroke="#476494" stroke-width="1.05"/>
<circle cx="399.90" cy="416.70" r="2.0" fill="none" stroke="#476494" stroke-width="1.05"/>
<rect x="412.30" y="409.30" width="13.90" height="12.30" fill="none" stroke="#c8707f" stroke-width="1.35"/>
<line x1="419.25" y1="406.30" x2="419.25" y2="412.30" stroke="#ad3249" stroke-width="1"/>
<line x1="415.95" y1="406.30" x2="422.55" y2="406.30" stroke="#ad3249" stroke-width="1"/>
<line x1="415.95" y1="412.30" x2="422.55" y2="412.30" stroke="#ad3249" stroke-width="1"/>
<circle cx="419.30" cy="390.90" r="2.0" fill="none" stroke="#ad3249" stroke-width="1.05"/>
<circle cx="422.00" cy="399.30" r="2.0" fill="none" stroke="#ad3249" stroke-width="1.05"/>
<circle cx="416.50" cy="403.30" r="2.0" fill="none" stroke="#ad3249" stroke-width="1.05"/>
<circle cx="419.00" cy="406.30" r="2.0" fill="none" stroke="#ad3249" stroke-width="1.05"/>
<circle cx="414.50" cy="410.30" r="2.0" fill="none" stroke="#ad3249" stroke-width="1.05"/>
<circle cx="419.00" cy="409.80" r="2.0" fill="none" stroke="#ad3249" stroke-width="1.05"/>
<circle cx="423.50" cy="409.80" r="2.0" fill="none" stroke="#ad3249" stroke-width="1.05"/>
<circle cx="414.00" cy="413.20" r="2.0" fill="none" stroke="#ad3249" stroke-width="1.05"/>
<circle cx="418.00" cy="414.70" r="2.0" fill="none" stroke="#ad3249" stroke-width="1.05"/>
<circle cx="424.00" cy="414.70" r="2.0" fill="none" stroke="#ad3249" stroke-width="1.05"/>
<circle cx="419.30" cy="417.70" r="2.0" fill="none" stroke="#ad3249" stroke-width="1.05"/>
<text x="6.80" y="166.30" font-size="10.4" textLength="7.00" lengthAdjust="spacingAndGlyphs" stroke="#2a2a2a" stroke-width="0.2">C</text>
<text x="78.60" y="174.50" font-size="8.8" textLength="70.80" lengthAdjust="spacingAndGlyphs" stroke="#2a2a2a" stroke-width="0.2">Gated on DN cells</text>
<text x="60.00" y="190.00" font-size="7.9" textLength="24.50" lengthAdjust="spacingAndGlyphs" stroke="#2a2a2a" stroke-width="0.2">Control</text>
<text x="139.60" y="190.00" font-size="8.0" textLength="14.80" lengthAdjust="spacingAndGlyphs" stroke="#2a2a2a" stroke-width="0.2">Phf6</text>
<text x="154.90" y="186.64" font-size="5.76" textLength="11.40" lengthAdjust="spacingAndGlyphs" stroke="#2a2a2a" stroke-width="0.16000000000000003">lox/Y</text>
<text x="166.50" y="190.00" font-size="8.0" textLength="27.90" lengthAdjust="spacingAndGlyphs" stroke="#2a2a2a" stroke-width="0.2">;Tie2-cre</text>
<text x="194.90" y="186.64" font-size="5.76" textLength="11.60" lengthAdjust="spacingAndGlyphs" stroke="#2a2a2a" stroke-width="0.16000000000000003">Tg/+</text>
<text x="7.90" y="315.00" font-size="10" textLength="5.20" lengthAdjust="spacingAndGlyphs" stroke="#2a2a2a" stroke-width="0.2">E</text>
<text x="82.70" y="325.80" font-size="8.8" textLength="62.80" lengthAdjust="spacingAndGlyphs" stroke="#2a2a2a" stroke-width="0.2"><tspan>Gated on Lin</tspan><tspan dy="-3.34" font-size="6.34">neg</tspan></text>
<text x="59.50" y="341.10" font-size="7.9" textLength="24.70" lengthAdjust="spacingAndGlyphs" stroke="#2a2a2a" stroke-width="0.2">Control</text>
<text x="136.90" y="341.00" font-size="8.0" textLength="14.73" lengthAdjust="spacingAndGlyphs" stroke="#2a2a2a" stroke-width="0.2">Phf6</text>
<text x="152.13" y="337.64" font-size="5.76" textLength="11.35" lengthAdjust="spacingAndGlyphs" stroke="#2a2a2a" stroke-width="0.16000000000000003">lox/Y</text>
<text x="163.68" y="341.00" font-size="8.0" textLength="27.77" lengthAdjust="spacingAndGlyphs" stroke="#2a2a2a" stroke-width="0.2">;Tie2-cre</text>
<text x="191.95" y="337.64" font-size="5.76" textLength="11.55" lengthAdjust="spacingAndGlyphs" stroke="#2a2a2a" stroke-width="0.16000000000000003">Tg/+</text>
<path fill="#5e79ab" d="M49.8 213.7h0.5v0.5h-0.5zM51.3 213.7h0.5v0.5h-0.5zM52.3 213.7h0.5v0.5h-0.5zM48.3 214.2h0.5v0.5h-0.5zM49.8 214.2h0.5v0.5h-0.5zM51.3 214.2h1.5v0.5h-1.5zM53.8 214.2h0.5v0.5h-0.5zM47.8 214.7h0.5v0.5h-0.5zM48.8 214.7h3v0.5h-3zM52.3 214.7h2.5v0.5h-2.5zM47.3 215.2h7.5v0.5h-7.5zM46.3 215.7h0.5v0.5h-0.5zM47.3 215.7h0.5v0.5h-0.5zM48.3 215.7h7v0.5h-7zM46.3 216.2h8.5v0.5h-8.5zM45.8 216.7h9v0.5h-9zM55.3 216.7h1.5v0.5h-1.5zM45.3 217.2h0.5v0.5h-0.5zM46.3 217.2h10v0.5h-10zM45.8 217.7h10.5v0.5h-10.5zM45.8 218.2h10.5v0.5h-10.5zM45.8 218.7h10v0.5h-10zM45.8 219.2h10.5v0.5h-10.5zM45.8 219.7h11v0.5h-11zM45.8 220.2h10v0.5h-10zM45.3 220.7h0.5v0.5h-0.5zM46.3 220.7h10.5v0.5h-10.5zM46.3 221.2h10v0.5h-10zM46.8 221.7h9.5v0.5h-9.5zM46.3 222.2h9.5v0.5h-9.5zM45.8 222.7h10.5v0.5h-10.5zM45.3 223.2h0.5v0.5h-0.5zM46.3 223.2h9.5v0.5h-9.5zM56.3 223.2h1v0.5h-1zM46.8 223.7h10v0.5h-10zM45.8 224.2h10v0.5h-10zM46.3 224.7h10.5v0.5h-10.5zM46.3 225.2h10.5v0.5h-10.5zM46.3 225.7h10.5v0.5h-10.5zM45.8 226.2h0.5v0.5h-0.5zM46.8 226.2h9.5v0.5h-9.5zM46.8 226.7h8.5v0.5h-8.5zM55.8 226.7h0.5v0.5h-0.5zM45.8 227.2h0.5v0.5h-0.5zM46.8 227.2h9.5v0.5h-9.5zM45.8 227.7h0.5v0.5h-0.5zM47.3 227.7h8.5v0.5h-8.5zM45.8 228.2h10.5v0.5h-10.5zM46.8 228.7h9v0.5h-9zM56.3 228.7h0.5v0.5h-0.5zM46.3 229.2h10v0.5h-10zM45.8 229.7h10.5v0.5h-10.5zM46.3 230.2h10v0.5h-10zM46.3 230.7h9v0.5h-9zM45.8 231.2h10.5v0.5h-10.5zM45.8 231.7h9.5v0.5h-9.5zM55.8 231.7h0.5v0.5h-0.5zM83.3 231.7h0.5v0.5h-0.5zM46.3 232.2h9.5v0.5h-9.5zM78.8 232.2h0.5v0.5h-0.5zM81.8 232.2h0.5v0.5h-0.5zM83.8 232.2h0.5v0.5h-0.5zM85.8 232.2h0.5v0.5h-0.5zM88.8 232.2h0.5v0.5h-0.5zM91.8 232.2h0.5v0.5h-0.5zM92.8 232.2h0.5v0.5h-0.5zM93.8 232.2h0.5v0.5h-0.5zM46.3 232.7h10v0.5h-10zM74.8 232.7h0.5v0.5h-0.5zM75.8 232.7h3v0.5h-3zM79.3 232.7h1v0.5h-1zM80.8 232.7h0.5v0.5h-0.5zM82.8 232.7h1.5v0.5h-1.5zM84.8 232.7h1.5v0.5h-1.5zM86.8 232.7h0.5v0.5h-0.5zM88.3 232.7h1v0.5h-1zM89.8 232.7h1.5v0.5h-1.5zM91.8 232.7h2.5v0.5h-2.5zM46.3 233.2h9.5v0.5h-9.5zM73.3 233.2h1v0.5h-1zM74.8 233.2h8v0.5h-8zM83.3 233.2h12v0.5h-12zM46.3 233.7h9.5v0.5h-9.5zM73.3 233.7h0.5v0.5h-0.5zM74.3 233.7h21.5v0.5h-21.5zM46.3 234.2h9v0.5h-9zM55.8 234.2h0.5v0.5h-0.5zM73.3 234.2h22v0.5h-22zM46.8 234.7h9.5v0.5h-9.5zM71.8 234.7h0.5v0.5h-0.5zM72.8 234.7h23.5v0.5h-23.5zM46.3 235.2h9.5v0.5h-9.5zM71.8 235.2h0.5v0.5h-0.5zM72.8 235.2h23v0.5h-23zM45.8 235.7h10.5v0.5h-10.5zM70.8 235.7h25.5v0.5h-25.5zM45.8 236.2h0.5v0.5h-0.5zM46.8 236.2h9v0.5h-9zM71.8 236.2h25v0.5h-25zM46.3 236.7h9.5v0.5h-9.5zM70.3 236.7h0.5v0.5h-0.5zM71.3 236.7h24.5v0.5h-24.5zM45.8 237.2h10v0.5h-10zM69.8 237.2h26.5v0.5h-26.5zM46.3 237.7h8.5v0.5h-8.5zM68.3 237.7h0.5v0.5h-0.5zM69.8 237.7h26v0.5h-26zM46.3 238.2h9.5v0.5h-9.5zM68.3 238.2h28v0.5h-28zM46.8 238.7h8v0.5h-8zM67.8 238.7h1v0.5h-1zM69.3 238.7h28v0.5h-28zM46.8 239.2h8.5v0.5h-8.5zM67.8 239.2h0.5v0.5h-0.5zM68.8 239.2h27.5v0.5h-27.5zM96.8 239.2h0.5v0.5h-0.5zM45.8 239.7h9v0.5h-9zM55.3 239.7h0.5v0.5h-0.5zM67.8 239.7h29v0.5h-29zM46.3 240.2h9v0.5h-9zM67.8 240.2h29.5v0.5h-29.5zM45.8 240.7h10v0.5h-10zM67.3 240.7h30v0.5h-30zM46.3 241.2h9.5v0.5h-9.5zM66.3 241.2h1v0.5h-1zM67.8 241.2h28.5v0.5h-28.5zM46.3 241.7h9.5v0.5h-9.5zM66.8 241.7h30v0.5h-30zM46.3 242.2h9.5v0.5h-9.5zM66.3 242.2h30v0.5h-30zM96.8 242.2h0.5v0.5h-0.5zM45.8 242.7h9.5v0.5h-9.5zM66.3 242.7h30.5v0.5h-30.5zM45.8 243.2h0.5v0.5h-0.5zM47.3 243.2h8v0.5h-8zM55.8 243.2h0.5v0.5h-0.5zM66.3 243.2h30v0.5h-30zM45.8 243.7h9.5v0.5h-9.5zM65.3 243.7h0.5v0.5h-0.5zM66.3 243.7h30v0.5h-30zM45.8 244.2h9.5v0.5h-9.5zM55.8 244.2h0.5v0.5h-0.5zM56.8 244.2h1v0.5h-1zM60.3 244.2h0.5v0.5h-0.5zM63.8 244.2h0.5v0.5h-0.5zM64.8 244.2h32.5v0.5h-32.5zM46.8 244.7h12v0.5h-12zM60.8 244.7h0.5v0.5h-0.5zM61.8 244.7h1v0.5h-1zM63.8 244.7h0.5v0.5h-0.5zM64.8 244.7h31.5v0.5h-31.5zM96.8 244.7h0.5v0.5h-0.5zM46.3 245.2h0.5v0.5h-0.5zM47.3 245.2h10v0.5h-10zM57.8 245.2h0.5v0.5h-0.5zM58.8 245.2h37v0.5h-37zM45.8 245.7h0.5v0.5h-0.5zM46.8 245.7h50v0.5h-50zM46.3 246.2h50v0.5h-50zM46.3 246.7h50.5v0.5h-50.5zM46.8 247.2h49.5v0.5h-49.5zM96.8 247.2h0.5v0.5h-0.5zM46.3 247.7h51v0.5h-51zM46.8 248.2h50v0.5h-50zM97.3 248.2h0.5v0.5h-0.5zM45.8 248.7h52v0.5h-52zM46.3 249.2h50.5v0.5h-50.5zM45.8 249.7h50.5v0.5h-50.5zM45.8 250.2h50.5v0.5h-50.5zM45.8 250.7h0.5v0.5h-0.5zM46.8 250.7h50.5v0.5h-50.5zM46.8 251.2h50v0.5h-50zM46.8 251.7h50v0.5h-50zM46.3 252.2h50v0.5h-50zM45.8 252.7h51.5v0.5h-51.5zM46.8 253.2h50.5v0.5h-50.5zM46.8 253.7h50v0.5h-50zM45.8 254.2h0.5v0.5h-0.5zM46.8 254.2h50v0.5h-50zM45.8 254.7h1v0.5h-1zM47.3 254.7h48.5v0.5h-48.5zM46.3 255.2h49.5v0.5h-49.5zM96.3 255.2h0.5v0.5h-0.5zM45.8 255.7h0.5v0.5h-0.5zM46.8 255.7h49v0.5h-49zM96.3 255.7h0.5v0.5h-0.5zM47.3 256.2h49v0.5h-49zM46.3 256.7h20v0.5h-20zM66.8 256.7h30v0.5h-30zM47.3 257.2h1v0.5h-1zM48.8 257.2h0.5v0.5h-0.5zM50.3 257.2h9.5v0.5h-9.5zM60.8 257.2h1v0.5h-1zM62.3 257.2h0.5v0.5h-0.5zM65.8 257.2h1v0.5h-1zM67.8 257.2h4v0.5h-4zM72.3 257.2h24.5v0.5h-24.5zM47.3 257.7h0.5v0.5h-0.5zM50.8 257.7h0.5v0.5h-0.5zM52.8 257.7h0.5v0.5h-0.5zM55.8 257.7h0.5v0.5h-0.5zM57.3 257.7h2.5v0.5h-2.5zM61.3 257.7h0.5v0.5h-0.5zM62.8 257.7h0.5v0.5h-0.5zM65.3 257.7h1v0.5h-1zM68.3 257.7h1.5v0.5h-1.5zM70.8 257.7h0.5v0.5h-0.5zM72.3 257.7h1v0.5h-1zM73.8 257.7h21.5v0.5h-21.5zM49.3 258.2h0.5v0.5h-0.5zM50.8 258.2h0.5v0.5h-0.5zM51.8 258.2h1.5v0.5h-1.5zM55.3 258.2h2.5v0.5h-2.5zM58.8 258.2h0.5v0.5h-0.5zM73.3 258.2h0.5v0.5h-0.5zM74.8 258.2h1v0.5h-1zM76.3 258.2h19v0.5h-19zM49.8 258.7h0.5v0.5h-0.5zM57.3 258.7h0.5v0.5h-0.5zM76.8 258.7h1v0.5h-1zM78.3 258.7h17v0.5h-17zM76.8 259.2h18v0.5h-18zM78.8 259.7h16v0.5h-16zM95.3 259.7h0.5v0.5h-0.5zM78.8 260.2h0.5v0.5h-0.5zM79.8 260.2h1v0.5h-1zM82.8 260.2h0.5v0.5h-0.5zM84.3 260.2h10v0.5h-10zM94.8 260.2h0.5v0.5h-0.5zM81.8 260.7h0.5v0.5h-0.5zM82.8 260.7h0.5v0.5h-0.5zM83.8 260.7h1v0.5h-1zM86.3 260.7h5v0.5h-5zM91.8 260.7h1.5v0.5h-1.5zM93.8 260.7h1v0.5h-1zM84.8 261.2h3.5v0.5h-3.5zM89.8 261.2h0.5v0.5h-0.5zM90.8 261.2h1v0.5h-1zM92.3 261.2h0.5v0.5h-0.5zM86.3 261.7h1.5v0.5h-1.5zM88.8 261.7h0.5v0.5h-0.5zM90.8 261.7h0.5v0.5h-0.5zM92.3 261.7h0.5v0.5h-0.5z"/>
<path fill="#5e79ab" d="M51 211h1v1h-1zM55 211h1v1h-1zM54 212h1v1h-1zM52 213h1v1h-1zM50 214h1v1h-1zM43 215h1v1h-1zM46 215h1v1h-1zM62 215h1v1h-1zM55 216h1v1h-1zM42 217h1v1h-1zM57 217h1v1h-1zM59 217h1v1h-1zM62 217h1v1h-1zM64 217h1v1h-1zM66 217h1v1h-1zM84 217h1v1h-1zM42 218h1v1h-1zM44 218h1v1h-1zM45 218h1v1h-1zM46 218h1v1h-1zM47 218h1v1h-1zM57 218h1v1h-1zM62 218h1v1h-1zM48 219h1v1h-1zM50 219h1v1h-1zM68 219h1v1h-1zM47 220h1v1h-1zM50 220h1v1h-1zM51 220h1v1h-1zM54 220h1v1h-1zM78 220h1v1h-1zM94 220h1v1h-1zM99 220h1v1h-1zM51 221h1v1h-1zM71 221h1v1h-1zM73 221h1v1h-1zM77 221h1v1h-1zM43 222h1v1h-1zM45 222h1v1h-1zM51 222h1v1h-1zM52 222h1v1h-1zM56 222h1v1h-1zM65 222h1v1h-1zM68 222h1v1h-1zM69 222h1v1h-1zM72 222h1v1h-1zM75 222h1v1h-1zM92 222h1v1h-1zM48 223h1v1h-1zM51 223h1v1h-1zM68 223h1v1h-1zM69 223h1v1h-1zM71 223h1v1h-1zM87 223h1v1h-1zM96 223h1v1h-1zM47 224h1v1h-1zM50 224h1v1h-1zM51 224h1v1h-1zM54 224h1v1h-1zM69 224h1v1h-1zM70 224h1v1h-1zM71 224h1v1h-1zM75 224h1v1h-1zM76 224h1v1h-1zM80 224h1v1h-1zM89 224h1v1h-1zM42 225h1v1h-1zM44 225h1v1h-1zM46 225h1v1h-1zM48 225h1v1h-1zM50 225h1v1h-1zM51 225h1v1h-1zM52 225h1v1h-1zM70 225h1v1h-1zM73 225h1v1h-1zM79 225h1v1h-1zM99 225h1v1h-1zM48 226h1v1h-1zM54 226h1v1h-1zM55 226h1v1h-1zM56 226h1v1h-1zM75 226h1v1h-1zM78 226h1v1h-1zM82 226h1v1h-1zM85 226h1v1h-1zM88 226h1v1h-1zM91 226h1v1h-1zM95 226h1v1h-1zM99 226h1v1h-1zM48 227h1v1h-1zM49 227h1v1h-1zM52 227h1v1h-1zM55 227h1v1h-1zM58 227h1v1h-1zM64 227h1v1h-1zM78 227h1v1h-1zM79 227h1v1h-1zM81 227h1v1h-1zM86 227h1v1h-1zM87 227h1v1h-1zM88 227h1v1h-1zM89 227h1v1h-1zM92 227h1v1h-1zM93 227h1v1h-1zM99 227h1v1h-1zM47 228h1v1h-1zM54 228h1v1h-1zM58 228h1v1h-1zM77 228h1v1h-1zM78 228h1v1h-1zM79 228h1v1h-1zM82 228h1v1h-1zM83 228h1v1h-1zM86 228h1v1h-1zM87 228h1v1h-1zM88 228h1v1h-1zM90 228h1v1h-1zM92 228h1v1h-1zM93 228h1v1h-1zM95 228h1v1h-1zM98 228h1v1h-1zM100 228h1v1h-1zM47 229h1v1h-1zM54 229h1v1h-1zM56 229h1v1h-1zM64 229h1v1h-1zM67 229h1v1h-1zM77 229h1v1h-1zM80 229h1v1h-1zM82 229h1v1h-1zM83 229h1v1h-1zM84 229h1v1h-1zM85 229h1v1h-1zM87 229h1v1h-1zM88 229h1v1h-1zM91 229h1v1h-1zM95 229h1v1h-1zM96 229h1v1h-1zM98 229h1v1h-1zM100 229h1v1h-1zM47 230h1v1h-1zM57 230h1v1h-1zM63 230h1v1h-1zM65 230h1v1h-1zM67 230h1v1h-1zM77 230h1v1h-1zM78 230h1v1h-1zM83 230h1v1h-1zM85 230h1v1h-1zM87 230h1v1h-1zM88 230h1v1h-1zM91 230h1v1h-1zM92 230h1v1h-1zM102 230h1v1h-1zM47 231h1v1h-1zM52 231h1v1h-1zM53 231h1v1h-1zM58 231h1v1h-1zM70 231h1v1h-1zM79 231h1v1h-1zM82 231h1v1h-1zM86 231h1v1h-1zM87 231h1v1h-1zM91 231h1v1h-1zM99 231h1v1h-1zM48 232h1v1h-1zM55 232h1v1h-1zM76 232h1v1h-1zM81 232h1v1h-1zM86 232h1v1h-1zM90 232h1v1h-1zM97 232h1v1h-1zM108 232h1v1h-1zM45 233h1v1h-1zM47 233h1v1h-1zM48 233h1v1h-1zM60 233h1v1h-1zM61 233h1v1h-1zM65 233h1v1h-1zM75 233h1v1h-1zM76 233h1v1h-1zM78 233h1v1h-1zM81 233h1v1h-1zM88 233h1v1h-1zM89 233h1v1h-1zM93 233h1v1h-1zM94 233h1v1h-1zM53 234h1v1h-1zM61 234h1v1h-1zM63 234h1v1h-1zM74 234h1v1h-1zM96 234h1v1h-1zM97 234h1v1h-1zM45 235h1v1h-1zM47 235h1v1h-1zM49 235h1v1h-1zM52 235h1v1h-1zM54 235h1v1h-1zM66 235h1v1h-1zM70 235h1v1h-1zM44 236h1v1h-1zM67 236h1v1h-1zM68 236h1v1h-1zM69 236h1v1h-1zM70 236h1v1h-1zM49 237h1v1h-1zM58 237h1v1h-1zM60 237h1v1h-1zM65 237h1v1h-1zM58 239h1v1h-1zM63 239h1v1h-1zM69 239h1v1h-1zM71 239h1v1h-1zM66 240h1v1h-1zM59 241h1v1h-1zM61 241h1v1h-1zM62 241h1v1h-1zM63 241h1v1h-1zM64 241h1v1h-1zM67 241h1v1h-1zM69 241h1v1h-1zM58 243h1v1h-1zM61 243h1v1h-1zM62 243h1v1h-1zM63 243h1v1h-1zM67 243h1v1h-1zM62 245h1v1h-1zM66 245h1v1h-1zM67 245h1v1h-1zM69 246h1v1h-1zM64 248h1v1h-1z"/>
<path fill="#d4513d" d="M43.3 213.7h0.5v0.5h-0.5zM47.3 214.7h0.5v0.5h-0.5zM56.3 215.7h0.5v0.5h-0.5zM49.3 216.2h0.5v0.5h-0.5zM50.8 216.2h0.5v0.5h-0.5zM50.3 217.2h1v0.5h-1zM50.3 217.7h1v0.5h-1zM52.3 217.7h0.5v0.5h-0.5zM53.3 217.7h0.5v0.5h-0.5zM55.8 217.7h0.5v0.5h-0.5zM47.8 218.2h4v0.5h-4zM52.3 218.2h1v0.5h-1zM47.3 218.7h1.5v0.5h-1.5zM49.3 218.7h0.5v0.5h-0.5zM50.3 218.7h1v0.5h-1zM51.8 218.7h2v0.5h-2zM47.8 219.2h4.5v0.5h-4.5zM52.8 219.2h0.5v0.5h-0.5zM47.8 219.7h1v0.5h-1zM49.3 219.7h2v0.5h-2zM51.8 219.7h2.5v0.5h-2.5zM47.8 220.2h1.5v0.5h-1.5zM49.8 220.2h4v0.5h-4zM54.8 220.2h1.5v0.5h-1.5zM43.8 220.7h0.5v0.5h-0.5zM47.8 220.7h3v0.5h-3zM51.3 220.7h4v0.5h-4zM41.3 221.2h0.5v0.5h-0.5zM47.8 221.2h1v0.5h-1zM49.3 221.2h0.5v0.5h-0.5zM50.3 221.2h3v0.5h-3zM53.8 221.2h0.5v0.5h-0.5zM54.8 221.2h0.5v0.5h-0.5zM47.3 221.7h2.5v0.5h-2.5zM50.3 221.7h2v0.5h-2zM52.8 221.7h1v0.5h-1zM56.3 221.7h0.5v0.5h-0.5zM47.3 222.2h1v0.5h-1zM48.8 222.2h0.5v0.5h-0.5zM49.8 222.2h4.5v0.5h-4.5zM46.8 222.7h4.5v0.5h-4.5zM51.8 222.7h2.5v0.5h-2.5zM48.8 223.2h0.5v0.5h-0.5zM49.8 223.2h2v0.5h-2zM52.3 223.2h2v0.5h-2zM49.3 223.7h2v0.5h-2zM52.3 223.7h1v0.5h-1zM53.8 223.7h0.5v0.5h-0.5zM58.8 223.7h1v0.5h-1zM50.3 224.2h0.5v0.5h-0.5zM58.3 224.2h0.5v0.5h-0.5zM59.3 224.2h1v0.5h-1zM50.3 224.7h0.5v0.5h-0.5zM54.8 224.7h0.5v0.5h-0.5zM58.3 224.7h2v0.5h-2zM51.8 225.2h0.5v0.5h-0.5zM58.8 225.2h0.5v0.5h-0.5zM48.8 226.2h0.5v0.5h-0.5zM55.8 226.7h0.5v0.5h-0.5z"/>
<line x1="65.80" y1="195.50" x2="65.80" y2="270.70" stroke="#7a7a7a" stroke-width="1.2"/>
<line x1="34.60" y1="232.50" x2="110.40" y2="232.50" stroke="#4a4a4a" stroke-width="1.2"/>
<rect x="34.60" y="195.50" width="75.80" height="75.20" fill="none" stroke="#1f1f1f" stroke-width="1.3"/>
<path fill="#5e79ab" d="M152.0 214.6h1v0.5h-1zM148.5 215.1h1v0.5h-1zM150.5 215.1h0.5v0.5h-0.5zM152.0 215.1h1.5v0.5h-1.5zM154.0 215.1h0.5v0.5h-0.5zM149.0 215.6h0.5v0.5h-0.5zM150.0 215.6h4.5v0.5h-4.5zM148.0 216.1h0.5v0.5h-0.5zM149.0 216.1h5.5v0.5h-5.5zM155.0 216.1h0.5v0.5h-0.5zM148.5 216.6h8v0.5h-8zM147.5 217.1h8v0.5h-8zM156.0 217.1h1v0.5h-1zM147.5 217.6h8.5v0.5h-8.5zM147.0 218.1h9.5v0.5h-9.5zM146.0 218.6h11.5v0.5h-11.5zM146.5 219.1h11.5v0.5h-11.5zM146.0 219.6h11v0.5h-11zM157.5 219.6h0.5v0.5h-0.5zM146.5 220.1h10.5v0.5h-10.5zM158.0 220.1h0.5v0.5h-0.5zM146.5 220.6h11v0.5h-11zM146.0 221.1h11.5v0.5h-11.5zM158.0 221.1h0.5v0.5h-0.5zM146.5 221.6h11.5v0.5h-11.5zM146.5 222.1h10.5v0.5h-10.5zM157.5 222.1h0.5v0.5h-0.5zM147.0 222.6h10v0.5h-10zM146.5 223.1h10.5v0.5h-10.5zM146.0 223.6h11.5v0.5h-11.5zM146.0 224.1h11v0.5h-11zM147.0 224.6h10v0.5h-10zM146.0 225.1h11.5v0.5h-11.5zM147.0 225.6h10v0.5h-10zM157.5 225.6h0.5v0.5h-0.5zM146.5 226.1h10.5v0.5h-10.5zM147.0 226.6h10v0.5h-10zM146.0 227.1h10.5v0.5h-10.5zM146.5 227.6h10v0.5h-10zM146.5 228.1h10v0.5h-10zM146.5 228.6h9.5v0.5h-9.5zM147.0 229.1h10.5v0.5h-10.5zM147.0 229.6h9v0.5h-9zM146.5 230.1h9.5v0.5h-9.5zM147.0 230.6h10v0.5h-10zM146.5 231.1h9.5v0.5h-9.5zM146.0 231.6h9.5v0.5h-9.5zM156.0 231.6h0.5v0.5h-0.5zM183.5 231.6h0.5v0.5h-0.5zM186.5 231.6h0.5v0.5h-0.5zM146.0 232.1h0.5v0.5h-0.5zM147.0 232.1h8.5v0.5h-8.5zM182.0 232.1h0.5v0.5h-0.5zM183.0 232.1h0.5v0.5h-0.5zM184.5 232.1h1.5v0.5h-1.5zM187.0 232.1h0.5v0.5h-0.5zM189.5 232.1h0.5v0.5h-0.5zM192.0 232.1h0.5v0.5h-0.5zM147.0 232.6h9.5v0.5h-9.5zM176.0 232.6h0.5v0.5h-0.5zM177.0 232.6h0.5v0.5h-0.5zM180.5 232.6h1v0.5h-1zM182.0 232.6h1v0.5h-1zM183.5 232.6h1v0.5h-1zM185.0 232.6h2v0.5h-2zM187.5 232.6h0.5v0.5h-0.5zM188.5 232.6h2.5v0.5h-2.5zM192.0 232.6h0.5v0.5h-0.5zM194.0 232.6h0.5v0.5h-0.5zM146.5 233.1h9.5v0.5h-9.5zM175.5 233.1h0.5v0.5h-0.5zM176.5 233.1h1v0.5h-1zM178.0 233.1h1v0.5h-1zM180.5 233.1h11.5v0.5h-11.5zM192.5 233.1h1.5v0.5h-1.5zM195.0 233.1h1v0.5h-1zM145.5 233.6h0.5v0.5h-0.5zM146.5 233.6h8.5v0.5h-8.5zM174.5 233.6h1v0.5h-1zM176.0 233.6h18.5v0.5h-18.5zM195.5 233.6h1.5v0.5h-1.5zM146.0 234.1h0.5v0.5h-0.5zM147.0 234.1h8v0.5h-8zM155.5 234.1h0.5v0.5h-0.5zM174.5 234.1h23v0.5h-23zM146.0 234.6h0.5v0.5h-0.5zM147.0 234.6h8v0.5h-8zM174.0 234.6h24v0.5h-24zM147.0 235.1h9v0.5h-9zM173.0 235.1h25.5v0.5h-25.5zM147.0 235.6h8.5v0.5h-8.5zM173.5 235.6h24v0.5h-24zM198.0 235.6h0.5v0.5h-0.5zM146.0 236.1h0.5v0.5h-0.5zM147.0 236.1h8.5v0.5h-8.5zM173.5 236.1h25v0.5h-25zM146.0 236.6h0.5v0.5h-0.5zM147.0 236.6h7.5v0.5h-7.5zM155.0 236.6h0.5v0.5h-0.5zM172.5 236.6h25v0.5h-25zM198.0 236.6h0.5v0.5h-0.5zM147.0 237.1h8v0.5h-8zM172.5 237.1h25.5v0.5h-25.5zM198.5 237.1h0.5v0.5h-0.5zM146.5 237.6h0.5v0.5h-0.5zM147.5 237.6h7.5v0.5h-7.5zM172.5 237.6h27v0.5h-27zM145.5 238.1h0.5v0.5h-0.5zM146.5 238.1h8v0.5h-8zM172.5 238.1h26.5v0.5h-26.5zM146.5 238.6h0.5v0.5h-0.5zM147.5 238.6h8.5v0.5h-8.5zM172.0 238.6h27.5v0.5h-27.5zM146.5 239.1h8.5v0.5h-8.5zM171.5 239.1h27.5v0.5h-27.5zM146.0 239.6h9v0.5h-9zM172.0 239.6h26.5v0.5h-26.5zM199.0 239.6h0.5v0.5h-0.5zM146.5 240.1h8v0.5h-8zM171.5 240.1h27.5v0.5h-27.5zM147.0 240.6h8v0.5h-8zM171.0 240.6h28v0.5h-28zM199.5 240.6h0.5v0.5h-0.5zM146.0 241.1h8.5v0.5h-8.5zM171.5 241.1h28v0.5h-28zM146.0 241.6h0.5v0.5h-0.5zM147.0 241.6h8v0.5h-8zM170.0 241.6h0.5v0.5h-0.5zM171.0 241.6h28v0.5h-28zM147.0 242.1h8.5v0.5h-8.5zM170.0 242.1h0.5v0.5h-0.5zM171.5 242.1h27v0.5h-27zM146.0 242.6h8.5v0.5h-8.5zM170.5 242.6h28v0.5h-28zM147.0 243.1h8v0.5h-8zM170.0 243.1h28.5v0.5h-28.5zM146.5 243.6h9v0.5h-9zM169.0 243.6h30.5v0.5h-30.5zM146.5 244.1h8.5v0.5h-8.5zM170.0 244.1h29.5v0.5h-29.5zM146.0 244.6h9.5v0.5h-9.5zM169.0 244.6h29.5v0.5h-29.5zM199.0 244.6h0.5v0.5h-0.5zM146.5 245.1h8v0.5h-8zM155.0 245.1h0.5v0.5h-0.5zM168.5 245.1h30v0.5h-30zM146.0 245.6h0.5v0.5h-0.5zM147.0 245.6h8v0.5h-8zM167.5 245.6h0.5v0.5h-0.5zM168.5 245.6h30v0.5h-30zM199.0 245.6h0.5v0.5h-0.5zM146.0 246.1h1v0.5h-1zM147.5 246.1h8.5v0.5h-8.5zM157.0 246.1h0.5v0.5h-0.5zM161.5 246.1h0.5v0.5h-0.5zM164.0 246.1h0.5v0.5h-0.5zM167.5 246.1h31v0.5h-31zM199.5 246.1h0.5v0.5h-0.5zM146.0 246.6h0.5v0.5h-0.5zM147.0 246.6h12.5v0.5h-12.5zM160.0 246.6h1v0.5h-1zM161.5 246.6h3.5v0.5h-3.5zM165.5 246.6h1.5v0.5h-1.5zM167.5 246.6h32v0.5h-32zM146.5 247.1h53v0.5h-53zM146.0 247.6h53v0.5h-53zM146.5 248.1h52v0.5h-52zM147.0 248.6h52v0.5h-52zM146.0 249.1h52.5v0.5h-52.5zM199.0 249.1h0.5v0.5h-0.5zM146.0 249.6h0.5v0.5h-0.5zM147.0 249.6h51.5v0.5h-51.5zM146.5 250.1h52.5v0.5h-52.5zM146.0 250.6h0.5v0.5h-0.5zM147.0 250.6h51.5v0.5h-51.5zM199.0 250.6h0.5v0.5h-0.5zM147.0 251.1h51.5v0.5h-51.5zM199.0 251.1h0.5v0.5h-0.5zM147.0 251.6h52v0.5h-52zM146.5 252.1h52v0.5h-52zM199.0 252.1h0.5v0.5h-0.5zM146.5 252.6h53.5v0.5h-53.5zM146.5 253.1h52v0.5h-52zM146.0 253.6h0.5v0.5h-0.5zM147.0 253.6h52v0.5h-52zM146.0 254.1h0.5v0.5h-0.5zM147.0 254.1h51.5v0.5h-51.5zM145.5 254.6h1v0.5h-1zM147.0 254.6h52v0.5h-52zM146.0 255.1h53v0.5h-53zM147.0 255.6h52v0.5h-52zM146.5 256.1h51.5v0.5h-51.5zM146.5 256.6h51.5v0.5h-51.5zM198.5 256.6h0.5v0.5h-0.5zM148.0 257.1h49.5v0.5h-49.5zM198.0 257.1h0.5v0.5h-0.5zM147.5 257.6h50.5v0.5h-50.5zM149.0 258.1h1.5v0.5h-1.5zM151.0 258.1h0.5v0.5h-0.5zM152.0 258.1h1v0.5h-1zM153.5 258.1h0.5v0.5h-0.5zM155.5 258.1h2v0.5h-2zM158.0 258.1h0.5v0.5h-0.5zM159.0 258.1h38.5v0.5h-38.5zM198.0 258.1h0.5v0.5h-0.5zM148.5 258.6h0.5v0.5h-0.5zM153.0 258.6h0.5v0.5h-0.5zM154.0 258.6h0.5v0.5h-0.5zM156.5 258.6h1v0.5h-1zM158.0 258.6h2.5v0.5h-2.5zM161.0 258.6h36.5v0.5h-36.5zM198.5 258.6h0.5v0.5h-0.5zM154.5 259.1h1v0.5h-1zM160.0 259.1h1v0.5h-1zM162.5 259.1h0.5v0.5h-0.5zM163.5 259.1h35v0.5h-35zM164.0 259.6h0.5v0.5h-0.5zM165.0 259.6h1v0.5h-1zM166.5 259.6h1.5v0.5h-1.5zM169.0 259.6h28v0.5h-28zM165.0 260.1h0.5v0.5h-0.5zM166.5 260.1h0.5v0.5h-0.5zM169.5 260.1h0.5v0.5h-0.5zM171.5 260.1h25.5v0.5h-25.5zM171.5 260.6h0.5v0.5h-0.5zM173.0 260.6h0.5v0.5h-0.5zM174.0 260.6h1.5v0.5h-1.5zM176.0 260.6h5v0.5h-5zM181.5 260.6h13.5v0.5h-13.5zM195.5 260.6h1.5v0.5h-1.5zM175.5 261.1h0.5v0.5h-0.5zM177.0 261.1h1v0.5h-1zM178.5 261.1h1v0.5h-1zM180.0 261.1h3.5v0.5h-3.5zM184.0 261.1h10v0.5h-10zM194.5 261.1h1.5v0.5h-1.5zM178.5 261.6h1v0.5h-1zM180.0 261.6h1.5v0.5h-1.5zM182.5 261.6h0.5v0.5h-0.5zM183.5 261.6h0.5v0.5h-0.5zM185.0 261.6h0.5v0.5h-0.5zM186.5 261.6h3.5v0.5h-3.5zM191.5 261.6h1v0.5h-1zM194.5 261.6h0.5v0.5h-0.5zM187.5 262.1h0.5v0.5h-0.5zM190.0 262.1h0.5v0.5h-0.5z"/>
<path fill="#5e79ab" d="M155 210h1v1h-1zM151 211h1v1h-1zM145 212h1v1h-1zM154 212h1v1h-1zM144 213h1v1h-1zM153 213h1v1h-1zM158 213h1v1h-1zM144 214h1v1h-1zM151 214h1v1h-1zM152 214h1v1h-1zM153 214h1v1h-1zM156 214h1v1h-1zM145 215h1v1h-1zM147 215h1v1h-1zM148 215h1v1h-1zM150 215h1v1h-1zM151 215h1v1h-1zM154 215h1v1h-1zM150 216h1v1h-1zM153 216h1v1h-1zM157 216h1v1h-1zM189 216h1v1h-1zM143 217h1v1h-1zM145 217h1v1h-1zM147 217h1v1h-1zM150 217h1v1h-1zM146 218h1v1h-1zM147 218h1v1h-1zM149 218h1v1h-1zM150 218h1v1h-1zM151 218h1v1h-1zM158 218h1v1h-1zM180 218h1v1h-1zM147 219h1v1h-1zM152 219h1v1h-1zM155 219h1v1h-1zM157 219h1v1h-1zM160 219h1v1h-1zM170 219h1v1h-1zM192 219h1v1h-1zM144 220h1v1h-1zM145 220h1v1h-1zM148 220h1v1h-1zM151 220h1v1h-1zM154 220h1v1h-1zM156 220h1v1h-1zM168 220h1v1h-1zM170 220h1v1h-1zM175 220h1v1h-1zM179 220h1v1h-1zM189 220h1v1h-1zM157 221h1v1h-1zM159 221h1v1h-1zM177 221h1v1h-1zM181 221h1v1h-1zM194 221h1v1h-1zM141 222h1v1h-1zM145 222h1v1h-1zM151 222h1v1h-1zM154 222h1v1h-1zM156 222h1v1h-1zM159 222h1v1h-1zM165 222h1v1h-1zM171 222h1v1h-1zM173 222h1v1h-1zM174 222h1v1h-1zM186 222h1v1h-1zM189 222h1v1h-1zM152 223h1v1h-1zM156 223h1v1h-1zM157 223h1v1h-1zM159 223h1v1h-1zM166 223h1v1h-1zM173 223h1v1h-1zM177 223h1v1h-1zM152 224h1v1h-1zM159 224h1v1h-1zM170 224h1v1h-1zM171 224h1v1h-1zM172 224h1v1h-1zM182 224h1v1h-1zM183 224h1v1h-1zM186 224h1v1h-1zM196 224h1v1h-1zM147 225h1v1h-1zM150 225h1v1h-1zM153 225h1v1h-1zM160 225h1v1h-1zM161 225h1v1h-1zM171 225h1v1h-1zM175 225h1v1h-1zM180 225h1v1h-1zM181 225h1v1h-1zM185 225h1v1h-1zM186 225h1v1h-1zM190 225h1v1h-1zM198 225h1v1h-1zM148 226h1v1h-1zM153 226h1v1h-1zM155 226h1v1h-1zM157 226h1v1h-1zM158 226h1v1h-1zM159 226h1v1h-1zM160 226h1v1h-1zM171 226h1v1h-1zM182 226h1v1h-1zM183 226h1v1h-1zM184 226h1v1h-1zM186 226h1v1h-1zM190 226h1v1h-1zM191 226h1v1h-1zM192 226h1v1h-1zM146 227h1v1h-1zM149 227h1v1h-1zM150 227h1v1h-1zM156 227h1v1h-1zM169 227h1v1h-1zM184 227h1v1h-1zM189 227h1v1h-1zM191 227h1v1h-1zM202 227h1v1h-1zM145 228h1v1h-1zM151 228h1v1h-1zM154 228h1v1h-1zM169 228h1v1h-1zM179 228h1v1h-1zM180 228h1v1h-1zM181 228h1v1h-1zM183 228h1v1h-1zM185 228h1v1h-1zM186 228h1v1h-1zM187 228h1v1h-1zM189 228h1v1h-1zM190 228h1v1h-1zM195 228h1v1h-1zM196 228h1v1h-1zM199 228h1v1h-1zM144 229h1v1h-1zM147 229h1v1h-1zM150 229h1v1h-1zM151 229h1v1h-1zM152 229h1v1h-1zM153 229h1v1h-1zM156 229h1v1h-1zM168 229h1v1h-1zM169 229h1v1h-1zM171 229h1v1h-1zM174 229h1v1h-1zM181 229h1v1h-1zM183 229h1v1h-1zM186 229h1v1h-1zM187 229h1v1h-1zM188 229h1v1h-1zM191 229h1v1h-1zM193 229h1v1h-1zM194 229h1v1h-1zM195 229h1v1h-1zM201 229h1v1h-1zM152 230h1v1h-1zM155 230h1v1h-1zM159 230h1v1h-1zM176 230h1v1h-1zM178 230h1v1h-1zM181 230h1v1h-1zM182 230h1v1h-1zM183 230h1v1h-1zM189 230h1v1h-1zM192 230h1v1h-1zM193 230h1v1h-1zM195 230h1v1h-1zM197 230h1v1h-1zM200 230h1v1h-1zM201 230h1v1h-1zM143 231h1v1h-1zM149 231h1v1h-1zM154 231h1v1h-1zM157 231h1v1h-1zM158 231h1v1h-1zM161 231h1v1h-1zM181 231h1v1h-1zM183 231h1v1h-1zM184 231h1v1h-1zM186 231h1v1h-1zM187 231h1v1h-1zM189 231h1v1h-1zM190 231h1v1h-1zM191 231h1v1h-1zM194 231h1v1h-1zM195 231h1v1h-1zM198 231h1v1h-1zM145 232h1v1h-1zM148 232h1v1h-1zM153 232h1v1h-1zM154 232h1v1h-1zM155 232h1v1h-1zM165 232h1v1h-1zM170 232h1v1h-1zM182 232h1v1h-1zM194 232h1v1h-1zM142 233h1v1h-1zM146 233h1v1h-1zM149 233h1v1h-1zM151 233h1v1h-1zM153 233h1v1h-1zM154 233h1v1h-1zM156 233h1v1h-1zM161 233h1v1h-1zM182 233h1v1h-1zM186 233h1v1h-1zM193 233h1v1h-1zM194 233h1v1h-1zM151 234h1v1h-1zM168 234h1v1h-1zM170 234h1v1h-1zM176 234h1v1h-1zM144 235h1v1h-1zM146 235h1v1h-1zM148 235h1v1h-1zM149 235h1v1h-1zM156 235h1v1h-1zM162 235h1v1h-1zM164 235h1v1h-1zM170 235h1v1h-1zM189 235h1v1h-1zM202 235h1v1h-1zM150 236h1v1h-1zM165 236h1v1h-1zM167 236h1v1h-1zM172 236h1v1h-1zM157 237h1v1h-1zM158 237h1v1h-1zM161 237h1v1h-1zM164 237h1v1h-1zM168 237h1v1h-1zM156 238h1v1h-1zM157 238h1v1h-1zM160 238h1v1h-1zM162 238h1v1h-1zM164 238h1v1h-1zM167 238h1v1h-1zM168 238h1v1h-1zM155 239h1v1h-1zM157 239h1v1h-1zM159 239h1v1h-1zM160 239h1v1h-1zM161 239h1v1h-1zM165 239h1v1h-1zM167 239h1v1h-1zM171 239h1v1h-1zM158 240h1v1h-1zM162 240h1v1h-1zM165 240h1v1h-1zM169 240h1v1h-1zM170 240h1v1h-1zM159 241h1v1h-1zM160 241h1v1h-1zM163 241h1v1h-1zM164 241h1v1h-1zM167 241h1v1h-1zM168 241h1v1h-1zM157 242h1v1h-1zM165 242h1v1h-1zM166 242h1v1h-1zM167 242h1v1h-1zM169 242h1v1h-1zM159 243h1v1h-1zM160 243h1v1h-1zM163 243h1v1h-1zM166 243h1v1h-1zM167 243h1v1h-1zM160 244h1v1h-1zM161 244h1v1h-1zM162 244h1v1h-1zM163 244h1v1h-1zM164 244h1v1h-1zM166 244h1v1h-1zM167 244h1v1h-1zM170 244h1v1h-1zM156 245h1v1h-1zM158 245h1v1h-1zM162 245h1v1h-1zM164 245h1v1h-1zM165 245h1v1h-1zM168 245h1v1h-1zM159 246h1v1h-1zM161 246h1v1h-1zM166 246h1v1h-1zM167 246h1v1h-1zM161 247h1v1h-1zM164 247h1v1h-1zM156 248h1v1h-1z"/>
<path fill="#d4513d" d="M155.5 213.1h0.5v0.5h-0.5zM148.5 215.6h0.5v0.5h-0.5zM157.0 216.1h0.5v0.5h-0.5zM150.0 216.6h1v0.5h-1zM150.5 217.1h1v0.5h-1zM154.0 217.1h0.5v0.5h-0.5zM148.0 217.6h0.5v0.5h-0.5zM150.0 217.6h2.5v0.5h-2.5zM153.0 217.6h1.5v0.5h-1.5zM147.5 218.1h1.5v0.5h-1.5zM150.0 218.1h0.5v0.5h-0.5zM151.0 218.1h2v0.5h-2zM153.5 218.1h1.5v0.5h-1.5zM148.0 218.6h3v0.5h-3zM151.5 218.6h0.5v0.5h-0.5zM153.0 218.6h0.5v0.5h-0.5zM154.0 218.6h0.5v0.5h-0.5zM155.5 218.6h0.5v0.5h-0.5zM148.5 219.1h5.5v0.5h-5.5zM148.5 219.6h3.5v0.5h-3.5zM152.5 219.6h1.5v0.5h-1.5zM155.0 219.6h0.5v0.5h-0.5zM148.5 220.1h4v0.5h-4zM153.0 220.1h2v0.5h-2zM155.5 220.1h0.5v0.5h-0.5zM156.5 220.1h1v0.5h-1zM148.5 220.6h1.5v0.5h-1.5zM150.5 220.6h4.5v0.5h-4.5zM155.5 220.6h1v0.5h-1zM157.5 220.6h0.5v0.5h-0.5zM148.5 221.1h0.5v0.5h-0.5zM150.0 221.1h1.5v0.5h-1.5zM152.0 221.1h2v0.5h-2zM154.5 221.1h1.5v0.5h-1.5zM156.5 221.1h0.5v0.5h-0.5zM148.0 221.6h1v0.5h-1zM149.5 221.6h0.5v0.5h-0.5zM150.5 221.6h2v0.5h-2zM153.0 221.6h1.5v0.5h-1.5zM155.0 221.6h0.5v0.5h-0.5zM161.0 221.6h0.5v0.5h-0.5zM162.0 221.6h0.5v0.5h-0.5zM148.5 222.1h0.5v0.5h-0.5zM150.0 222.1h2v0.5h-2zM152.5 222.1h1.5v0.5h-1.5zM160.0 222.1h1v0.5h-1zM161.5 222.1h0.5v0.5h-0.5zM162.5 222.1h0.5v0.5h-0.5zM147.5 222.6h0.5v0.5h-0.5zM149.0 222.6h0.5v0.5h-0.5zM150.0 222.6h2v0.5h-2zM153.0 222.6h0.5v0.5h-0.5zM154.0 222.6h0.5v0.5h-0.5zM155.0 222.6h0.5v0.5h-0.5zM147.0 223.1h1v0.5h-1zM150.0 223.1h1.5v0.5h-1.5zM152.0 223.1h0.5v0.5h-0.5zM153.0 223.1h2v0.5h-2zM156.0 223.1h0.5v0.5h-0.5zM151.0 223.6h2v0.5h-2zM154.5 223.6h1v0.5h-1zM150.5 224.1h2v0.5h-2zM155.5 224.1h1v0.5h-1zM150.5 224.6h0.5v0.5h-0.5zM147.5 225.1h0.5v0.5h-0.5zM150.0 225.1h0.5v0.5h-0.5zM150.5 225.6h0.5v0.5h-0.5zM153.0 225.6h1v0.5h-1zM151.0 226.1h0.5v0.5h-0.5z"/>
<line x1="166.60" y1="195.40" x2="166.60" y2="270.80" stroke="#7a7a7a" stroke-width="1.2"/>
<line x1="135.30" y1="232.70" x2="211.20" y2="232.70" stroke="#4a4a4a" stroke-width="1.2"/>
<rect x="135.30" y="195.40" width="75.90" height="75.40" fill="none" stroke="#1f1f1f" stroke-width="1.3"/>
<path stroke="#2a2a2a" stroke-width="1.0" fill="none" d="M32.00 202.50H34.60M32.00 219.70H34.60M32.00 240.80H34.60M32.00 253.90H34.60M51.00 270.70V273.30M65.80 270.70V273.30M85.80 270.70V273.30M104.00 270.70V273.30"/>
<path stroke="#2a2a2a" stroke-width="0.75" fill="none" d="M33.10 234.45H34.60M33.10 230.73H34.60M33.10 228.10H34.60M33.10 226.05H34.60M33.10 224.38H34.60M33.10 222.97H34.60M33.10 221.74H34.60M33.10 220.67H34.60M33.10 214.52H34.60M33.10 211.49H34.60M33.10 209.34H34.60M33.10 207.68H34.60M33.10 206.32H34.60M33.10 205.16H34.60M33.10 204.17H34.60M33.10 203.29H34.60M33.10 246.50H34.60M33.10 250.00H34.60M33.10 258.00H34.60M33.10 262.00H34.60M33.10 266.00H34.60M40.00 270.70V272.10M44.00 270.70V272.10M47.00 270.70V272.10M55.00 270.70V272.10M58.00 270.70V272.10M61.00 270.70V272.10M71.82 270.70V272.10M75.34 270.70V272.10M77.84 270.70V272.10M79.78 270.70V272.10M81.36 270.70V272.10M82.70 270.70V272.10M83.86 270.70V272.10M84.88 270.70V272.10M91.28 270.70V272.10M94.48 270.70V272.10M96.76 270.70V272.10M98.52 270.70V272.10M99.96 270.70V272.10M101.18 270.70V272.10M102.24 270.70V272.10M103.17 270.70V272.10"/>
<rect x="32.30" y="252.50" width="2.30" height="2.80" fill="#2a2a2a"/>
<rect x="50.00" y="271.00" width="2.40" height="1.60" fill="#2a2a2a"/>
<text x="17.80" y="205.80" font-size="7.6" textLength="10.40" lengthAdjust="spacingAndGlyphs" stroke="#2a2a2a" stroke-width="0.2"><tspan>10</tspan><tspan dy="-3.19" font-size="6.08">5</tspan></text>
<text x="17.80" y="223.70" font-size="7.6" textLength="10.40" lengthAdjust="spacingAndGlyphs" stroke="#2a2a2a" stroke-width="0.2"><tspan>10</tspan><tspan dy="-3.19" font-size="6.08">4</tspan></text>
<text x="17.80" y="244.10" font-size="7.6" textLength="10.40" lengthAdjust="spacingAndGlyphs" stroke="#2a2a2a" stroke-width="0.2"><tspan>10</tspan><tspan dy="-3.19" font-size="6.08">3</tspan></text>
<text x="25.00" y="256.40" font-size="7.4" textLength="3.60" lengthAdjust="spacingAndGlyphs" stroke="#2a2a2a" stroke-width="0.2">0</text>
<text x="49.00" y="283.30" font-size="7.4" textLength="3.90" lengthAdjust="spacingAndGlyphs" stroke="#2a2a2a" stroke-width="0.2">0</text>
<text x="60.20" y="283.30" font-size="7.6" textLength="10.60" lengthAdjust="spacingAndGlyphs" stroke="#2a2a2a" stroke-width="0.2"><tspan>10</tspan><tspan dy="-3.19" font-size="6.08">3</tspan></text>
<text x="80.80" y="283.30" font-size="7.6" textLength="10.50" lengthAdjust="spacingAndGlyphs" stroke="#2a2a2a" stroke-width="0.2"><tspan>10</tspan><tspan dy="-3.19" font-size="6.08">4</tspan></text>
<text x="98.70" y="283.30" font-size="7.6" textLength="10.30" lengthAdjust="spacingAndGlyphs" stroke="#2a2a2a" stroke-width="0.2"><tspan>10</tspan><tspan dy="-3.19" font-size="6.08">5</tspan></text>
<path stroke="#2a2a2a" stroke-width="1.0" fill="none" d="M132.70 202.50H135.30M132.70 219.70H135.30M132.70 240.80H135.30M132.70 253.90H135.30M151.80 270.80V273.40M166.60 270.80V273.40M186.60 270.80V273.40M204.80 270.80V273.40"/>
<path stroke="#2a2a2a" stroke-width="0.75" fill="none" d="M133.80 234.45H135.30M133.80 230.73H135.30M133.80 228.10H135.30M133.80 226.05H135.30M133.80 224.38H135.30M133.80 222.97H135.30M133.80 221.74H135.30M133.80 220.67H135.30M133.80 214.52H135.30M133.80 211.49H135.30M133.80 209.34H135.30M133.80 207.68H135.30M133.80 206.32H135.30M133.80 205.16H135.30M133.80 204.17H135.30M133.80 203.29H135.30M133.80 246.50H135.30M133.80 250.00H135.30M133.80 258.00H135.30M133.80 262.00H135.30M133.80 266.00H135.30M140.80 270.80V272.20M144.80 270.80V272.20M147.80 270.80V272.20M155.80 270.80V272.20M158.80 270.80V272.20M161.80 270.80V272.20M172.62 270.80V272.20M176.14 270.80V272.20M178.64 270.80V272.20M180.58 270.80V272.20M182.16 270.80V272.20M183.50 270.80V272.20M184.66 270.80V272.20M185.68 270.80V272.20M192.08 270.80V272.20M195.28 270.80V272.20M197.56 270.80V272.20M199.32 270.80V272.20M200.76 270.80V272.20M201.98 270.80V272.20M203.04 270.80V272.20M203.97 270.80V272.20"/>
<rect x="133.00" y="252.50" width="2.30" height="2.80" fill="#2a2a2a"/>
<rect x="150.80" y="271.10" width="2.40" height="1.60" fill="#2a2a2a"/>
<text x="118.50" y="205.80" font-size="7.6" textLength="10.40" lengthAdjust="spacingAndGlyphs" stroke="#2a2a2a" stroke-width="0.2"><tspan>10</tspan><tspan dy="-3.19" font-size="6.08">5</tspan></text>
<text x="118.50" y="223.70" font-size="7.6" textLength="10.40" lengthAdjust="spacingAndGlyphs" stroke="#2a2a2a" stroke-width="0.2"><tspan>10</tspan><tspan dy="-3.19" font-size="6.08">4</tspan></text>
<text x="118.50" y="244.10" font-size="7.6" textLength="10.40" lengthAdjust="spacingAndGlyphs" stroke="#2a2a2a" stroke-width="0.2"><tspan>10</tspan><tspan dy="-3.19" font-size="6.08">3</tspan></text>
<text x="125.70" y="256.40" font-size="7.4" textLength="3.60" lengthAdjust="spacingAndGlyphs" stroke="#2a2a2a" stroke-width="0.2">0</text>
<text x="149.80" y="283.30" font-size="7.4" textLength="3.90" lengthAdjust="spacingAndGlyphs" stroke="#2a2a2a" stroke-width="0.2">0</text>
<text x="161.00" y="283.30" font-size="7.6" textLength="10.60" lengthAdjust="spacingAndGlyphs" stroke="#2a2a2a" stroke-width="0.2"><tspan>10</tspan><tspan dy="-3.19" font-size="6.08">3</tspan></text>
<text x="181.60" y="283.30" font-size="7.6" textLength="10.50" lengthAdjust="spacingAndGlyphs" stroke="#2a2a2a" stroke-width="0.2"><tspan>10</tspan><tspan dy="-3.19" font-size="6.08">4</tspan></text>
<text x="199.50" y="283.30" font-size="7.6" textLength="10.30" lengthAdjust="spacingAndGlyphs" stroke="#2a2a2a" stroke-width="0.2"><tspan>10</tspan><tspan dy="-3.19" font-size="6.08">5</tspan></text>
<text x="36.10" y="201.60" font-size="6.8" fill="#b23a4c" textLength="11.60" lengthAdjust="spacingAndGlyphs" stroke="#b23a4c" stroke-width="0.2">ETP</text>
<text x="48.80" y="201.60" font-size="6.8" textLength="15.70" lengthAdjust="spacingAndGlyphs" stroke="#2a2a2a" stroke-width="0.2">0.005</text>
<text x="36.10" y="210.90" font-size="6.8" textLength="20.70" lengthAdjust="spacingAndGlyphs" stroke="#2a2a2a" stroke-width="0.2">±0.008</text>
<text x="108.10" y="201.90" font-size="6.8" fill="#b23a4c" text-anchor="end" textLength="13.40" lengthAdjust="spacingAndGlyphs" stroke="#b23a4c" stroke-width="0.2">DN2</text>
<text x="108.10" y="210.60" font-size="6.8" text-anchor="end" textLength="16.20" lengthAdjust="spacingAndGlyphs" stroke="#2a2a2a" stroke-width="0.2">0.034</text>
<text x="108.10" y="220.00" font-size="6.8" text-anchor="end" textLength="21.00" lengthAdjust="spacingAndGlyphs" stroke="#2a2a2a" stroke-width="0.2">±0.003</text>
<text x="36.50" y="259.70" font-size="6.8" textLength="12.30" lengthAdjust="spacingAndGlyphs" stroke="#2a2a2a" stroke-width="0.2">1.07</text>
<text x="36.10" y="268.60" font-size="6.8" textLength="17.10" lengthAdjust="spacingAndGlyphs" stroke="#2a2a2a" stroke-width="0.2">±0.07</text>
<text x="108.10" y="269.00" font-size="6.8" text-anchor="end" textLength="29.40" lengthAdjust="spacingAndGlyphs" stroke="#2a2a2a" stroke-width="0.2">1.12±0.05</text>
<text x="48.70" y="252.90" font-size="7.8" fill="#b23a4c" textLength="13.50" lengthAdjust="spacingAndGlyphs" stroke="#b23a4c" stroke-width="0.2">DN4</text>
<text x="76.70" y="252.90" font-size="7.8" fill="#b23a4c" textLength="13.50" lengthAdjust="spacingAndGlyphs" stroke="#b23a4c" stroke-width="0.2">DN3</text>
<text x="137.00" y="202.00" font-size="6.8" textLength="15.80" lengthAdjust="spacingAndGlyphs" stroke="#2a2a2a" stroke-width="0.2">0.003</text>
<text x="137.00" y="210.80" font-size="6.8" textLength="20.00" lengthAdjust="spacingAndGlyphs" stroke="#2a2a2a" stroke-width="0.2">±0.004</text>
<text x="209.40" y="202.00" font-size="6.8" text-anchor="end" textLength="16.10" lengthAdjust="spacingAndGlyphs" stroke="#2a2a2a" stroke-width="0.2">0.020</text>
<text x="209.40" y="210.80" font-size="6.8" text-anchor="end" textLength="20.30" lengthAdjust="spacingAndGlyphs" stroke="#2a2a2a" stroke-width="0.2">±0.002</text>
<text x="138.40" y="260.30" font-size="6.8" textLength="12.20" lengthAdjust="spacingAndGlyphs" stroke="#2a2a2a" stroke-width="0.2">1.04</text>
<text x="138.40" y="268.90" font-size="6.8" textLength="16.60" lengthAdjust="spacingAndGlyphs" stroke="#2a2a2a" stroke-width="0.2">±0.12</text>
<text x="209.40" y="268.90" font-size="6.8" text-anchor="end" textLength="30.20" lengthAdjust="spacingAndGlyphs" stroke="#2a2a2a" stroke-width="0.2">0.88±0.06</text>
<line x1="11.20" y1="199.50" x2="11.20" y2="250.60" stroke="#2a2a2a" stroke-width="1.2"/>
<path d="M11.2 193.3L14.3 201.2L11.2 199.6L8.1 201.2Z" fill="#2a2a2a"/>
<text x="13.90" y="275.60" font-size="9.0" textLength="21.70" lengthAdjust="spacingAndGlyphs" transform="rotate(-90 13.90 275.60)" stroke="#2a2a2a" stroke-width="0.2">CD44</text>
<text x="31.70" y="293.80" font-size="9.0" textLength="20.80" lengthAdjust="spacingAndGlyphs" stroke="#2a2a2a" stroke-width="0.2">CD25</text>
<line x1="55.80" y1="291.00" x2="197.00" y2="291.00" stroke="#2a2a2a" stroke-width="1.2"/>
<path d="M203.8 291L195.2 294.2L197.0 291L195.2 287.8Z" fill="#2a2a2a"/>
<g clip-path="url(#ec0)"><path filter="url(#ef1)" fill="#aab4dc" opacity="0.55" d="M38.5 371.0L43.0 364.0L60.0 361.5L80.0 360.5L98.0 355.0L104.0 355.0L102.0 362.0L99.5 385.0L99.5 414.5L43.0 414.5L38.0 404.0Z"/><path filter="url(#ef2)" fill="#9ea9d6" opacity="0.55" d="M41.5 378.0L70.0 380.0L84.0 385.0L98.0 382.0L98.5 413.5L45.0 413.5L41.0 396.0Z"/><path filter="url(#ef1)" fill="#7083bf" opacity="0.45" d="M70.0 390.0L84.0 392.0L90.0 400.0L88.0 413.5L72.0 413.5L70.0 400.0Z"/><path filter="url(#ef2)" fill="#4e6399" d="M44.0 399.0L46.5 393.2L55.0 391.8L64.0 392.3L69.5 395.0L70.5 403.0L69.0 410.0L62.0 413.0L52.0 413.0L46.0 411.0L43.5 406.0Z"/><path filter="url(#ef2)" fill="#4e6399" d="M82.5 392.0L97.0 388.0L97.3 395.0L97.0 408.0L95.5 413.0L90.0 413.8L85.0 411.0L83.5 402.0Z"/><path filter="url(#ef2)" fill="#5a70b0" opacity="0.6" d="M44.5 372.0L45.5 366.0L50.0 362.4L56.0 361.7L64.0 361.9L71.0 362.3L78.0 361.5L86.0 360.1L94.0 358.3L100.0 356.4L103.4 355.7L103.0 359.5L101.0 365.0L98.0 372.0L97.5 392.0L70.0 392.0L66.0 381.0L47.0 379.5L44.7 376.0Z"/><path filter="url(#ef3)" fill="#4e6399" d="M45.5 372.0L46.5 366.5L50.0 363.6L56.0 362.9L64.0 363.1L71.0 363.5L78.0 362.7L86.0 361.3L94.0 359.5L100.0 357.6L102.6 356.9L102.0 359.5L100.0 365.0L98.0 372.0L96.8 379.0L96.6 392.0L90.0 393.0L84.0 394.0L76.0 391.5L72.0 388.0L70.0 383.0L66.0 380.2L58.0 379.4L51.0 378.9L47.0 378.0L45.7 375.5Z"/></g>
<path fill="#4e6399" opacity="0.8" d="M98.7 352.2h.6v.6h-.6zM105.0 352.2h.6v.6h-.6zM96.6 355.0h.6v.6h-.6zM97.3 355.0h.6v.6h-.6zM61.6 355.7h.6v.6h-.6zM95.9 355.7h.6v.6h-.6zM100.8 355.7h.6v.6h-.6zM105.7 355.7h.6v.6h-.6zM87.5 356.4h.6v.6h-.6zM89.6 356.4h.6v.6h-.6zM93.1 356.4h.6v.6h-.6zM95.9 356.4h.6v.6h-.6zM48.3 357.1h.6v.6h-.6zM86.8 357.1h.6v.6h-.6zM91.0 357.1h.6v.6h-.6zM100.1 357.1h.6v.6h-.6zM103.6 357.1h.6v.6h-.6zM104.3 357.1h.6v.6h-.6zM66.5 357.8h.6v.6h-.6zM78.4 357.8h.6v.6h-.6zM94.5 357.8h.6v.6h-.6zM100.1 357.8h.6v.6h-.6zM51.1 358.5h.6v.6h-.6zM51.8 358.5h.6v.6h-.6zM103.6 358.5h.6v.6h-.6zM99.4 359.2h.6v.6h-.6zM101.5 359.2h.6v.6h-.6zM49.7 359.9h.6v.6h-.6zM57.4 359.9h.6v.6h-.6zM59.5 359.9h.6v.6h-.6zM103.6 359.9h.6v.6h-.6zM105.7 359.9h.6v.6h-.6zM55.3 360.6h.6v.6h-.6zM63.7 360.6h.6v.6h-.6zM102.2 360.6h.6v.6h-.6zM46.2 361.3h.6v.6h-.6zM48.3 361.3h.6v.6h-.6zM58.1 361.3h.6v.6h-.6zM102.2 361.3h.6v.6h-.6zM51.1 362.0h.6v.6h-.6zM43.4 362.7h.6v.6h-.6zM46.9 362.7h.6v.6h-.6zM53.9 362.7h.6v.6h-.6zM56.7 362.7h.6v.6h-.6zM47.6 363.4h.6v.6h-.6zM99.4 363.4h.6v.6h-.6zM42.7 364.1h.6v.6h-.6zM50.4 364.1h.6v.6h-.6zM101.5 364.1h.6v.6h-.6zM102.2 364.1h.6v.6h-.6zM102.9 364.1h.6v.6h-.6zM43.4 364.8h.6v.6h-.6zM105.0 364.8h.6v.6h-.6zM97.3 365.5h.6v.6h-.6zM102.9 365.5h.6v.6h-.6zM44.8 366.2h.6v.6h-.6zM41.3 366.9h.6v.6h-.6zM100.8 366.9h.6v.6h-.6zM40.6 367.6h.6v.6h-.6zM44.8 367.6h.6v.6h-.6zM100.8 367.6h.6v.6h-.6zM101.5 367.6h.6v.6h-.6zM106.4 367.6h.6v.6h-.6zM43.4 368.3h.6v.6h-.6zM44.1 368.3h.6v.6h-.6zM101.5 368.3h.6v.6h-.6zM42.0 369.0h.6v.6h-.6zM44.8 369.0h.6v.6h-.6zM101.5 369.0h.6v.6h-.6zM103.6 369.0h.6v.6h-.6zM42.0 369.7h.6v.6h-.6zM105.0 369.7h.6v.6h-.6zM41.3 370.4h.6v.6h-.6zM44.1 370.4h.6v.6h-.6zM40.6 371.1h.6v.6h-.6zM42.0 371.8h.6v.6h-.6zM105.7 371.8h.6v.6h-.6zM41.3 372.5h.6v.6h-.6zM101.5 372.5h.6v.6h-.6zM41.3 373.2h.6v.6h-.6zM100.8 373.2h.6v.6h-.6zM39.2 373.9h.6v.6h-.6zM42.7 373.9h.6v.6h-.6zM43.4 373.9h.6v.6h-.6zM99.4 373.9h.6v.6h-.6zM101.5 373.9h.6v.6h-.6zM44.1 374.6h.6v.6h-.6zM44.8 374.6h.6v.6h-.6zM98.7 374.6h.6v.6h-.6zM100.1 374.6h.6v.6h-.6zM37.8 375.3h.6v.6h-.6zM40.6 375.3h.6v.6h-.6zM41.3 375.3h.6v.6h-.6zM104.3 375.3h.6v.6h-.6zM41.3 376.0h.6v.6h-.6zM42.7 376.0h.6v.6h-.6zM51.8 376.0h.6v.6h-.6zM100.1 376.0h.6v.6h-.6zM37.8 376.7h.6v.6h-.6zM95.2 376.7h.6v.6h-.6zM37.8 377.4h.6v.6h-.6zM39.9 377.4h.6v.6h-.6zM42.0 377.4h.6v.6h-.6zM42.7 377.4h.6v.6h-.6zM45.5 377.4h.6v.6h-.6zM46.2 377.4h.6v.6h-.6zM101.5 377.4h.6v.6h-.6zM103.6 377.4h.6v.6h-.6zM44.1 378.1h.6v.6h-.6zM47.6 378.1h.6v.6h-.6zM97.3 378.1h.6v.6h-.6zM45.5 378.8h.6v.6h-.6zM46.2 378.8h.6v.6h-.6zM42.7 379.5h.6v.6h-.6zM43.4 379.5h.6v.6h-.6zM51.8 379.5h.6v.6h-.6zM64.4 379.5h.6v.6h-.6zM100.8 379.5h.6v.6h-.6zM102.2 379.5h.6v.6h-.6zM39.2 380.2h.6v.6h-.6zM40.6 380.2h.6v.6h-.6zM51.1 380.2h.6v.6h-.6zM60.2 380.2h.6v.6h-.6zM104.3 380.2h.6v.6h-.6zM40.6 380.9h.6v.6h-.6zM49.0 380.9h.6v.6h-.6zM51.8 380.9h.6v.6h-.6zM52.5 380.9h.6v.6h-.6zM56.7 380.9h.6v.6h-.6zM100.1 380.9h.6v.6h-.6zM40.6 381.6h.6v.6h-.6zM46.9 381.6h.6v.6h-.6zM49.0 381.6h.6v.6h-.6zM50.4 381.6h.6v.6h-.6zM53.2 381.6h.6v.6h-.6zM53.9 381.6h.6v.6h-.6zM60.2 381.6h.6v.6h-.6zM62.3 381.6h.6v.6h-.6zM67.2 381.6h.6v.6h-.6zM98.7 381.6h.6v.6h-.6zM49.7 382.3h.6v.6h-.6zM52.5 382.3h.6v.6h-.6zM60.9 382.3h.6v.6h-.6zM72.1 382.3h.6v.6h-.6zM77.0 382.3h.6v.6h-.6zM41.3 383.0h.6v.6h-.6zM51.8 383.0h.6v.6h-.6zM58.1 383.0h.6v.6h-.6zM60.9 383.0h.6v.6h-.6zM61.6 383.0h.6v.6h-.6zM101.5 383.0h.6v.6h-.6zM44.8 383.7h.6v.6h-.6zM50.4 383.7h.6v.6h-.6zM55.3 383.7h.6v.6h-.6zM56.0 383.7h.6v.6h-.6zM58.8 383.7h.6v.6h-.6zM60.9 383.7h.6v.6h-.6zM68.6 383.7h.6v.6h-.6zM69.3 383.7h.6v.6h-.6zM76.3 383.7h.6v.6h-.6zM85.4 383.7h.6v.6h-.6zM40.6 384.4h.6v.6h-.6zM44.8 384.4h.6v.6h-.6zM47.6 384.4h.6v.6h-.6zM53.9 384.4h.6v.6h-.6zM70.0 384.4h.6v.6h-.6zM72.1 384.4h.6v.6h-.6zM77.7 384.4h.6v.6h-.6zM79.8 384.4h.6v.6h-.6zM37.8 385.1h.6v.6h-.6zM58.8 385.1h.6v.6h-.6zM60.2 385.1h.6v.6h-.6zM61.6 385.1h.6v.6h-.6zM71.4 385.1h.6v.6h-.6zM82.6 385.1h.6v.6h-.6zM103.6 385.1h.6v.6h-.6zM38.5 385.8h.6v.6h-.6zM39.2 385.8h.6v.6h-.6zM43.4 385.8h.6v.6h-.6zM44.8 385.8h.6v.6h-.6zM52.5 385.8h.6v.6h-.6zM53.2 385.8h.6v.6h-.6zM58.1 385.8h.6v.6h-.6zM63.0 385.8h.6v.6h-.6zM66.5 385.8h.6v.6h-.6zM68.6 385.8h.6v.6h-.6zM79.8 385.8h.6v.6h-.6zM94.5 385.8h.6v.6h-.6zM95.2 385.8h.6v.6h-.6zM39.2 386.5h.6v.6h-.6zM42.0 386.5h.6v.6h-.6zM47.6 386.5h.6v.6h-.6zM65.1 386.5h.6v.6h-.6zM66.5 386.5h.6v.6h-.6zM70.0 386.5h.6v.6h-.6zM72.8 386.5h.6v.6h-.6zM76.3 386.5h.6v.6h-.6zM83.3 386.5h.6v.6h-.6zM89.6 386.5h.6v.6h-.6zM98.0 386.5h.6v.6h-.6zM99.4 386.5h.6v.6h-.6zM103.6 386.5h.6v.6h-.6zM40.6 387.2h.6v.6h-.6zM43.4 387.2h.6v.6h-.6zM44.8 387.2h.6v.6h-.6zM50.4 387.2h.6v.6h-.6zM65.1 387.2h.6v.6h-.6zM71.4 387.2h.6v.6h-.6zM87.5 387.2h.6v.6h-.6zM88.2 387.2h.6v.6h-.6zM95.2 387.2h.6v.6h-.6zM38.5 387.9h.6v.6h-.6zM42.7 387.9h.6v.6h-.6zM47.6 387.9h.6v.6h-.6zM54.6 387.9h.6v.6h-.6zM57.4 387.9h.6v.6h-.6zM58.1 387.9h.6v.6h-.6zM60.9 387.9h.6v.6h-.6zM62.3 387.9h.6v.6h-.6zM74.9 387.9h.6v.6h-.6zM92.4 387.9h.6v.6h-.6zM101.5 387.9h.6v.6h-.6zM102.2 387.9h.6v.6h-.6zM39.9 388.6h.6v.6h-.6zM40.6 388.6h.6v.6h-.6zM45.5 388.6h.6v.6h-.6zM46.9 388.6h.6v.6h-.6zM55.3 388.6h.6v.6h-.6zM56.7 388.6h.6v.6h-.6zM58.8 388.6h.6v.6h-.6zM66.5 388.6h.6v.6h-.6zM67.9 388.6h.6v.6h-.6zM70.7 388.6h.6v.6h-.6zM79.8 388.6h.6v.6h-.6zM82.6 388.6h.6v.6h-.6zM91.7 388.6h.6v.6h-.6zM94.5 388.6h.6v.6h-.6zM98.7 388.6h.6v.6h-.6zM99.4 388.6h.6v.6h-.6zM39.9 389.3h.6v.6h-.6zM44.1 389.3h.6v.6h-.6zM44.8 389.3h.6v.6h-.6zM46.2 389.3h.6v.6h-.6zM56.0 389.3h.6v.6h-.6zM58.1 389.3h.6v.6h-.6zM58.8 389.3h.6v.6h-.6zM59.5 389.3h.6v.6h-.6zM60.2 389.3h.6v.6h-.6zM61.6 389.3h.6v.6h-.6zM63.0 389.3h.6v.6h-.6zM77.7 389.3h.6v.6h-.6zM80.5 389.3h.6v.6h-.6zM81.9 389.3h.6v.6h-.6zM91.7 389.3h.6v.6h-.6zM92.4 389.3h.6v.6h-.6zM93.8 389.3h.6v.6h-.6zM94.5 389.3h.6v.6h-.6zM45.5 390.0h.6v.6h-.6zM48.3 390.0h.6v.6h-.6zM51.8 390.0h.6v.6h-.6zM54.6 390.0h.6v.6h-.6zM60.9 390.0h.6v.6h-.6zM67.2 390.0h.6v.6h-.6zM70.0 390.0h.6v.6h-.6zM71.4 390.0h.6v.6h-.6zM73.5 390.0h.6v.6h-.6zM78.4 390.0h.6v.6h-.6zM86.8 390.0h.6v.6h-.6zM94.5 390.0h.6v.6h-.6zM95.2 390.0h.6v.6h-.6zM95.9 390.0h.6v.6h-.6zM103.6 390.0h.6v.6h-.6zM35.7 390.7h.6v.6h-.6zM44.8 390.7h.6v.6h-.6zM50.4 390.7h.6v.6h-.6zM58.1 390.7h.6v.6h-.6zM58.8 390.7h.6v.6h-.6zM60.9 390.7h.6v.6h-.6zM61.6 390.7h.6v.6h-.6zM84.7 390.7h.6v.6h-.6zM92.4 390.7h.6v.6h-.6zM93.8 390.7h.6v.6h-.6zM98.0 390.7h.6v.6h-.6zM100.1 390.7h.6v.6h-.6zM101.5 390.7h.6v.6h-.6zM36.4 391.4h.6v.6h-.6zM39.2 391.4h.6v.6h-.6zM39.9 391.4h.6v.6h-.6zM42.7 391.4h.6v.6h-.6zM43.4 391.4h.6v.6h-.6zM45.5 391.4h.6v.6h-.6zM51.1 391.4h.6v.6h-.6zM55.3 391.4h.6v.6h-.6zM58.8 391.4h.6v.6h-.6zM60.9 391.4h.6v.6h-.6zM66.5 391.4h.6v.6h-.6zM70.7 391.4h.6v.6h-.6zM73.5 391.4h.6v.6h-.6zM75.6 391.4h.6v.6h-.6zM84.0 391.4h.6v.6h-.6zM91.7 391.4h.6v.6h-.6zM100.8 391.4h.6v.6h-.6zM36.4 392.1h.6v.6h-.6zM44.1 392.1h.6v.6h-.6zM49.7 392.1h.6v.6h-.6zM52.5 392.1h.6v.6h-.6zM53.9 392.1h.6v.6h-.6zM56.0 392.1h.6v.6h-.6zM56.7 392.1h.6v.6h-.6zM58.1 392.1h.6v.6h-.6zM64.4 392.1h.6v.6h-.6zM66.5 392.1h.6v.6h-.6zM67.9 392.1h.6v.6h-.6zM72.1 392.1h.6v.6h-.6zM72.8 392.1h.6v.6h-.6zM78.4 392.1h.6v.6h-.6zM79.8 392.1h.6v.6h-.6zM81.9 392.1h.6v.6h-.6zM86.1 392.1h.6v.6h-.6zM90.3 392.1h.6v.6h-.6zM95.2 392.1h.6v.6h-.6zM96.6 392.1h.6v.6h-.6zM38.5 392.8h.6v.6h-.6zM40.6 392.8h.6v.6h-.6zM44.1 392.8h.6v.6h-.6zM44.8 392.8h.6v.6h-.6zM46.2 392.8h.6v.6h-.6zM53.2 392.8h.6v.6h-.6zM58.1 392.8h.6v.6h-.6zM58.8 392.8h.6v.6h-.6zM60.2 392.8h.6v.6h-.6zM63.0 392.8h.6v.6h-.6zM65.1 392.8h.6v.6h-.6zM66.5 392.8h.6v.6h-.6zM67.9 392.8h.6v.6h-.6zM70.0 392.8h.6v.6h-.6zM71.4 392.8h.6v.6h-.6zM82.6 392.8h.6v.6h-.6zM86.8 392.8h.6v.6h-.6zM93.8 392.8h.6v.6h-.6zM95.2 392.8h.6v.6h-.6zM96.6 392.8h.6v.6h-.6zM100.8 392.8h.6v.6h-.6zM102.9 392.8h.6v.6h-.6zM45.5 393.5h.6v.6h-.6zM51.1 393.5h.6v.6h-.6zM60.2 393.5h.6v.6h-.6zM64.4 393.5h.6v.6h-.6zM86.8 393.5h.6v.6h-.6zM93.1 393.5h.6v.6h-.6zM95.9 393.5h.6v.6h-.6zM43.4 394.2h.6v.6h-.6zM44.1 394.2h.6v.6h-.6zM49.7 394.2h.6v.6h-.6zM51.8 394.2h.6v.6h-.6zM58.8 394.2h.6v.6h-.6zM59.5 394.2h.6v.6h-.6zM66.5 394.2h.6v.6h-.6zM68.6 394.2h.6v.6h-.6zM69.3 394.2h.6v.6h-.6zM72.1 394.2h.6v.6h-.6zM77.0 394.2h.6v.6h-.6zM80.5 394.2h.6v.6h-.6zM84.0 394.2h.6v.6h-.6zM87.5 394.2h.6v.6h-.6zM90.3 394.2h.6v.6h-.6zM91.0 394.2h.6v.6h-.6zM93.1 394.2h.6v.6h-.6zM96.6 394.2h.6v.6h-.6zM98.0 394.2h.6v.6h-.6zM35.7 394.9h.6v.6h-.6zM48.3 394.9h.6v.6h-.6zM53.9 394.9h.6v.6h-.6zM54.6 394.9h.6v.6h-.6zM58.1 394.9h.6v.6h-.6zM59.5 394.9h.6v.6h-.6zM66.5 394.9h.6v.6h-.6zM67.2 394.9h.6v.6h-.6zM72.8 394.9h.6v.6h-.6zM75.6 394.9h.6v.6h-.6zM79.8 394.9h.6v.6h-.6zM81.9 394.9h.6v.6h-.6zM91.0 394.9h.6v.6h-.6zM92.4 394.9h.6v.6h-.6zM96.6 394.9h.6v.6h-.6zM42.0 395.6h.6v.6h-.6zM46.2 395.6h.6v.6h-.6zM47.6 395.6h.6v.6h-.6zM50.4 395.6h.6v.6h-.6zM51.8 395.6h.6v.6h-.6zM55.3 395.6h.6v.6h-.6zM57.4 395.6h.6v.6h-.6zM59.5 395.6h.6v.6h-.6zM67.9 395.6h.6v.6h-.6zM72.1 395.6h.6v.6h-.6zM79.8 395.6h.6v.6h-.6zM81.9 395.6h.6v.6h-.6zM83.3 395.6h.6v.6h-.6zM91.0 395.6h.6v.6h-.6zM91.7 395.6h.6v.6h-.6zM93.1 395.6h.6v.6h-.6zM95.9 395.6h.6v.6h-.6zM96.6 395.6h.6v.6h-.6zM41.3 396.3h.6v.6h-.6zM47.6 396.3h.6v.6h-.6zM48.3 396.3h.6v.6h-.6zM49.0 396.3h.6v.6h-.6zM52.5 396.3h.6v.6h-.6zM56.7 396.3h.6v.6h-.6zM58.8 396.3h.6v.6h-.6zM69.3 396.3h.6v.6h-.6zM73.5 396.3h.6v.6h-.6zM75.6 396.3h.6v.6h-.6zM79.8 396.3h.6v.6h-.6zM81.9 396.3h.6v.6h-.6zM83.3 396.3h.6v.6h-.6zM86.1 396.3h.6v.6h-.6zM91.0 396.3h.6v.6h-.6zM93.8 396.3h.6v.6h-.6zM94.5 396.3h.6v.6h-.6zM40.6 397.0h.6v.6h-.6zM42.7 397.0h.6v.6h-.6zM47.6 397.0h.6v.6h-.6zM56.0 397.0h.6v.6h-.6zM60.2 397.0h.6v.6h-.6zM62.3 397.0h.6v.6h-.6zM65.8 397.0h.6v.6h-.6zM67.9 397.0h.6v.6h-.6zM69.3 397.0h.6v.6h-.6zM75.6 397.0h.6v.6h-.6zM84.7 397.0h.6v.6h-.6zM86.1 397.0h.6v.6h-.6zM89.6 397.0h.6v.6h-.6zM90.3 397.0h.6v.6h-.6zM91.0 397.0h.6v.6h-.6zM35.7 397.7h.6v.6h-.6zM46.9 397.7h.6v.6h-.6zM52.5 397.7h.6v.6h-.6zM59.5 397.7h.6v.6h-.6zM67.2 397.7h.6v.6h-.6zM72.1 397.7h.6v.6h-.6zM74.9 397.7h.6v.6h-.6zM77.7 397.7h.6v.6h-.6zM79.1 397.7h.6v.6h-.6zM83.3 397.7h.6v.6h-.6zM84.0 397.7h.6v.6h-.6zM91.7 397.7h.6v.6h-.6zM93.8 397.7h.6v.6h-.6zM97.3 397.7h.6v.6h-.6zM37.8 398.4h.6v.6h-.6zM38.5 398.4h.6v.6h-.6zM39.2 398.4h.6v.6h-.6zM45.5 398.4h.6v.6h-.6zM46.9 398.4h.6v.6h-.6zM53.2 398.4h.6v.6h-.6zM55.3 398.4h.6v.6h-.6zM62.3 398.4h.6v.6h-.6zM63.7 398.4h.6v.6h-.6zM65.8 398.4h.6v.6h-.6zM68.6 398.4h.6v.6h-.6zM72.1 398.4h.6v.6h-.6zM80.5 398.4h.6v.6h-.6zM83.3 398.4h.6v.6h-.6zM84.7 398.4h.6v.6h-.6zM87.5 398.4h.6v.6h-.6zM88.2 398.4h.6v.6h-.6zM88.9 398.4h.6v.6h-.6zM89.6 398.4h.6v.6h-.6zM91.7 398.4h.6v.6h-.6zM94.5 398.4h.6v.6h-.6zM95.2 398.4h.6v.6h-.6zM97.3 398.4h.6v.6h-.6zM100.1 398.4h.6v.6h-.6zM38.5 399.1h.6v.6h-.6zM40.6 399.1h.6v.6h-.6zM42.7 399.1h.6v.6h-.6zM44.1 399.1h.6v.6h-.6zM56.7 399.1h.6v.6h-.6zM60.9 399.1h.6v.6h-.6zM67.9 399.1h.6v.6h-.6zM68.6 399.1h.6v.6h-.6zM72.8 399.1h.6v.6h-.6zM73.5 399.1h.6v.6h-.6zM81.9 399.1h.6v.6h-.6zM82.6 399.1h.6v.6h-.6zM85.4 399.1h.6v.6h-.6zM89.6 399.1h.6v.6h-.6zM100.8 399.1h.6v.6h-.6zM37.8 399.8h.6v.6h-.6zM58.1 399.8h.6v.6h-.6zM60.2 399.8h.6v.6h-.6zM60.9 399.8h.6v.6h-.6zM62.3 399.8h.6v.6h-.6zM63.0 399.8h.6v.6h-.6zM63.7 399.8h.6v.6h-.6zM71.4 399.8h.6v.6h-.6zM72.1 399.8h.6v.6h-.6zM75.6 399.8h.6v.6h-.6zM77.0 399.8h.6v.6h-.6zM80.5 399.8h.6v.6h-.6zM86.1 399.8h.6v.6h-.6zM93.1 399.8h.6v.6h-.6zM94.5 399.8h.6v.6h-.6zM45.5 400.5h.6v.6h-.6zM49.7 400.5h.6v.6h-.6zM62.3 400.5h.6v.6h-.6zM64.4 400.5h.6v.6h-.6zM67.9 400.5h.6v.6h-.6zM71.4 400.5h.6v.6h-.6zM73.5 400.5h.6v.6h-.6zM79.8 400.5h.6v.6h-.6zM81.9 400.5h.6v.6h-.6zM86.1 400.5h.6v.6h-.6zM90.3 400.5h.6v.6h-.6zM91.0 400.5h.6v.6h-.6zM44.8 401.2h.6v.6h-.6zM46.9 401.2h.6v.6h-.6zM49.7 401.2h.6v.6h-.6zM52.5 401.2h.6v.6h-.6zM55.3 401.2h.6v.6h-.6zM56.7 401.2h.6v.6h-.6zM57.4 401.2h.6v.6h-.6zM69.3 401.2h.6v.6h-.6zM70.0 401.2h.6v.6h-.6zM73.5 401.2h.6v.6h-.6zM78.4 401.2h.6v.6h-.6zM81.2 401.2h.6v.6h-.6zM82.6 401.2h.6v.6h-.6zM83.3 401.2h.6v.6h-.6zM86.1 401.2h.6v.6h-.6zM88.2 401.2h.6v.6h-.6zM91.0 401.2h.6v.6h-.6zM96.6 401.2h.6v.6h-.6zM37.8 401.9h.6v.6h-.6zM46.9 401.9h.6v.6h-.6zM51.1 401.9h.6v.6h-.6zM57.4 401.9h.6v.6h-.6zM60.9 401.9h.6v.6h-.6zM64.4 401.9h.6v.6h-.6zM65.1 401.9h.6v.6h-.6zM65.8 401.9h.6v.6h-.6zM68.6 401.9h.6v.6h-.6zM73.5 401.9h.6v.6h-.6zM79.8 401.9h.6v.6h-.6zM88.9 401.9h.6v.6h-.6zM93.1 401.9h.6v.6h-.6zM98.0 401.9h.6v.6h-.6zM39.2 402.6h.6v.6h-.6zM42.7 402.6h.6v.6h-.6zM49.7 402.6h.6v.6h-.6zM52.5 402.6h.6v.6h-.6zM55.3 402.6h.6v.6h-.6zM60.9 402.6h.6v.6h-.6zM66.5 402.6h.6v.6h-.6zM68.6 402.6h.6v.6h-.6zM71.4 402.6h.6v.6h-.6zM76.3 402.6h.6v.6h-.6zM77.0 402.6h.6v.6h-.6zM79.1 402.6h.6v.6h-.6zM79.8 402.6h.6v.6h-.6zM84.0 402.6h.6v.6h-.6zM84.7 402.6h.6v.6h-.6zM87.5 402.6h.6v.6h-.6zM95.9 402.6h.6v.6h-.6zM38.5 403.3h.6v.6h-.6zM42.0 403.3h.6v.6h-.6zM43.4 403.3h.6v.6h-.6zM51.1 403.3h.6v.6h-.6zM53.9 403.3h.6v.6h-.6zM54.6 403.3h.6v.6h-.6zM56.0 403.3h.6v.6h-.6zM58.8 403.3h.6v.6h-.6zM60.2 403.3h.6v.6h-.6zM60.9 403.3h.6v.6h-.6zM63.7 403.3h.6v.6h-.6zM67.9 403.3h.6v.6h-.6zM68.6 403.3h.6v.6h-.6zM73.5 403.3h.6v.6h-.6zM80.5 403.3h.6v.6h-.6zM83.3 403.3h.6v.6h-.6zM87.5 403.3h.6v.6h-.6zM95.2 403.3h.6v.6h-.6zM96.6 403.3h.6v.6h-.6zM99.4 403.3h.6v.6h-.6zM38.5 404.0h.6v.6h-.6zM39.2 404.0h.6v.6h-.6zM51.1 404.0h.6v.6h-.6zM57.4 404.0h.6v.6h-.6zM61.6 404.0h.6v.6h-.6zM62.3 404.0h.6v.6h-.6zM63.7 404.0h.6v.6h-.6zM65.8 404.0h.6v.6h-.6zM67.2 404.0h.6v.6h-.6zM68.6 404.0h.6v.6h-.6zM74.2 404.0h.6v.6h-.6zM76.3 404.0h.6v.6h-.6zM81.9 404.0h.6v.6h-.6zM88.2 404.0h.6v.6h-.6zM89.6 404.0h.6v.6h-.6zM90.3 404.0h.6v.6h-.6zM93.8 404.0h.6v.6h-.6zM94.5 404.0h.6v.6h-.6zM98.0 404.0h.6v.6h-.6zM98.7 404.0h.6v.6h-.6zM102.2 404.0h.6v.6h-.6zM44.1 404.7h.6v.6h-.6zM46.2 404.7h.6v.6h-.6zM53.2 404.7h.6v.6h-.6zM58.8 404.7h.6v.6h-.6zM65.8 404.7h.6v.6h-.6zM70.7 404.7h.6v.6h-.6zM74.2 404.7h.6v.6h-.6zM78.4 404.7h.6v.6h-.6zM80.5 404.7h.6v.6h-.6zM86.1 404.7h.6v.6h-.6zM88.9 404.7h.6v.6h-.6zM93.8 404.7h.6v.6h-.6zM95.2 404.7h.6v.6h-.6zM96.6 404.7h.6v.6h-.6zM39.9 405.4h.6v.6h-.6zM42.7 405.4h.6v.6h-.6zM43.4 405.4h.6v.6h-.6zM44.8 405.4h.6v.6h-.6zM57.4 405.4h.6v.6h-.6zM60.9 405.4h.6v.6h-.6zM62.3 405.4h.6v.6h-.6zM64.4 405.4h.6v.6h-.6zM70.0 405.4h.6v.6h-.6zM72.1 405.4h.6v.6h-.6zM77.7 405.4h.6v.6h-.6zM79.1 405.4h.6v.6h-.6zM81.2 405.4h.6v.6h-.6zM83.3 405.4h.6v.6h-.6zM84.7 405.4h.6v.6h-.6zM86.8 405.4h.6v.6h-.6zM93.1 405.4h.6v.6h-.6zM96.6 405.4h.6v.6h-.6zM46.2 406.1h.6v.6h-.6zM46.9 406.1h.6v.6h-.6zM48.3 406.1h.6v.6h-.6zM67.2 406.1h.6v.6h-.6zM85.4 406.1h.6v.6h-.6zM96.6 406.1h.6v.6h-.6zM98.0 406.1h.6v.6h-.6zM41.3 406.8h.6v.6h-.6zM42.0 406.8h.6v.6h-.6zM51.8 406.8h.6v.6h-.6zM63.0 406.8h.6v.6h-.6zM63.7 406.8h.6v.6h-.6zM65.1 406.8h.6v.6h-.6zM74.2 406.8h.6v.6h-.6zM88.2 406.8h.6v.6h-.6zM90.3 406.8h.6v.6h-.6zM44.1 407.5h.6v.6h-.6zM46.9 407.5h.6v.6h-.6zM47.6 407.5h.6v.6h-.6zM48.3 407.5h.6v.6h-.6zM56.0 407.5h.6v.6h-.6zM66.5 407.5h.6v.6h-.6zM79.8 407.5h.6v.6h-.6zM83.3 407.5h.6v.6h-.6zM92.4 407.5h.6v.6h-.6zM93.8 407.5h.6v.6h-.6zM95.2 407.5h.6v.6h-.6zM97.3 407.5h.6v.6h-.6zM44.1 408.2h.6v.6h-.6zM49.7 408.2h.6v.6h-.6zM51.8 408.2h.6v.6h-.6zM52.5 408.2h.6v.6h-.6zM60.2 408.2h.6v.6h-.6zM61.6 408.2h.6v.6h-.6zM63.7 408.2h.6v.6h-.6zM65.8 408.2h.6v.6h-.6zM68.6 408.2h.6v.6h-.6zM70.7 408.2h.6v.6h-.6zM82.6 408.2h.6v.6h-.6zM84.7 408.2h.6v.6h-.6zM88.2 408.2h.6v.6h-.6zM93.1 408.2h.6v.6h-.6zM95.2 408.2h.6v.6h-.6zM98.0 408.2h.6v.6h-.6zM47.6 408.9h.6v.6h-.6zM48.3 408.9h.6v.6h-.6zM54.6 408.9h.6v.6h-.6zM56.7 408.9h.6v.6h-.6zM57.4 408.9h.6v.6h-.6zM59.5 408.9h.6v.6h-.6zM60.2 408.9h.6v.6h-.6zM63.7 408.9h.6v.6h-.6zM70.0 408.9h.6v.6h-.6zM74.2 408.9h.6v.6h-.6zM84.7 408.9h.6v.6h-.6zM88.2 408.9h.6v.6h-.6zM89.6 408.9h.6v.6h-.6zM96.6 408.9h.6v.6h-.6zM98.0 408.9h.6v.6h-.6zM42.7 409.6h.6v.6h-.6zM44.1 409.6h.6v.6h-.6zM47.6 409.6h.6v.6h-.6zM49.0 409.6h.6v.6h-.6zM53.2 409.6h.6v.6h-.6zM56.7 409.6h.6v.6h-.6zM59.5 409.6h.6v.6h-.6zM60.2 409.6h.6v.6h-.6zM74.9 409.6h.6v.6h-.6zM81.9 409.6h.6v.6h-.6zM83.3 409.6h.6v.6h-.6zM88.2 409.6h.6v.6h-.6zM93.1 409.6h.6v.6h-.6zM100.8 409.6h.6v.6h-.6zM56.7 410.3h.6v.6h-.6zM58.8 410.3h.6v.6h-.6zM64.4 410.3h.6v.6h-.6zM65.1 410.3h.6v.6h-.6zM70.7 410.3h.6v.6h-.6zM72.1 410.3h.6v.6h-.6zM74.2 410.3h.6v.6h-.6zM82.6 410.3h.6v.6h-.6zM83.3 410.3h.6v.6h-.6zM90.3 410.3h.6v.6h-.6zM35.7 411.0h.6v.6h-.6zM42.0 411.0h.6v.6h-.6zM51.1 411.0h.6v.6h-.6zM53.2 411.0h.6v.6h-.6zM64.4 411.0h.6v.6h-.6zM66.5 411.0h.6v.6h-.6zM77.7 411.0h.6v.6h-.6zM84.0 411.0h.6v.6h-.6zM91.0 411.0h.6v.6h-.6zM92.4 411.0h.6v.6h-.6zM41.3 411.7h.6v.6h-.6zM42.0 411.7h.6v.6h-.6zM46.9 411.7h.6v.6h-.6zM55.3 411.7h.6v.6h-.6zM56.7 411.7h.6v.6h-.6zM63.7 411.7h.6v.6h-.6zM73.5 411.7h.6v.6h-.6zM81.2 411.7h.6v.6h-.6zM82.6 411.7h.6v.6h-.6zM86.8 411.7h.6v.6h-.6zM87.5 411.7h.6v.6h-.6zM89.6 411.7h.6v.6h-.6zM91.0 411.7h.6v.6h-.6zM92.4 411.7h.6v.6h-.6zM95.2 411.7h.6v.6h-.6zM95.9 411.7h.6v.6h-.6zM42.7 412.4h.6v.6h-.6zM44.1 412.4h.6v.6h-.6zM48.3 412.4h.6v.6h-.6zM54.6 412.4h.6v.6h-.6zM55.3 412.4h.6v.6h-.6zM59.5 412.4h.6v.6h-.6zM74.9 412.4h.6v.6h-.6zM87.5 412.4h.6v.6h-.6zM94.5 412.4h.6v.6h-.6zM99.4 412.4h.6v.6h-.6zM45.5 413.1h.6v.6h-.6zM47.6 413.1h.6v.6h-.6zM48.3 413.1h.6v.6h-.6zM49.0 413.1h.6v.6h-.6zM51.8 413.1h.6v.6h-.6zM56.7 413.1h.6v.6h-.6zM59.5 413.1h.6v.6h-.6zM61.6 413.1h.6v.6h-.6zM66.5 413.1h.6v.6h-.6zM68.6 413.1h.6v.6h-.6zM71.4 413.1h.6v.6h-.6zM72.1 413.1h.6v.6h-.6zM85.4 413.1h.6v.6h-.6zM86.8 413.1h.6v.6h-.6zM88.2 413.1h.6v.6h-.6zM91.0 413.1h.6v.6h-.6zM99.4 413.1h.6v.6h-.6zM49.7 413.8h.6v.6h-.6zM57.4 413.8h.6v.6h-.6zM73.5 413.8h.6v.6h-.6zM75.6 413.8h.6v.6h-.6zM92.4 413.8h.6v.6h-.6zM44.8 414.5h.6v.6h-.6zM45.5 414.5h.6v.6h-.6zM48.3 414.5h.6v.6h-.6zM70.0 414.5h.6v.6h-.6zM74.2 414.5h.6v.6h-.6zM81.9 414.5h.6v.6h-.6zM84.7 414.5h.6v.6h-.6zM50.4 415.2h.6v.6h-.6zM57.4 415.2h.6v.6h-.6zM58.8 415.2h.6v.6h-.6zM60.2 415.2h.6v.6h-.6zM65.8 415.2h.6v.6h-.6zM56.7 415.9h.6v.6h-.6zM71.4 415.9h.6v.6h-.6zM74.2 416.6h.6v.6h-.6zM85.4 416.6h.6v.6h-.6zM50.4 417.3h.6v.6h-.6z"/>
<g filter="url(#eb2)"><ellipse cx="51.20" cy="369.4" rx="7.0" ry="4.2" fill="#5a8ed0" opacity="0.75"/><ellipse cx="51.60" cy="369.4" rx="3.8" ry="2.5" fill="#7ccbed"/><ellipse cx="89.20" cy="371.50" rx="16" ry="6.2" transform="rotate(-50 89.20 371.50)" fill="#5b92d2" opacity="0.85"/><ellipse cx="88.20" cy="373.20" rx="12" ry="4.6" transform="rotate(-52 88.20 373.20)" fill="#6cc2ea"/></g><g filter="url(#eb3)"><ellipse cx="88.80" cy="373.40" rx="5.6" ry="3.9" transform="rotate(-70 88.80 373.40)" fill="#8dc85a"/><ellipse cx="89.10" cy="372.20" rx="3.0" ry="2.5" transform="rotate(-70 89.10 372.20)" fill="#f3df3a"/><circle cx="89.20" cy="371.90" r="1.35" fill="#e3392b"/></g>
<line x1="70.40" y1="346.30" x2="70.40" y2="421.20" stroke="#d05c64" stroke-width="1.2"/>
<line x1="34.60" y1="389.80" x2="108.90" y2="389.80" stroke="#d05c64" stroke-width="1.2"/>
<rect x="34.60" y="346.30" width="74.30" height="74.90" fill="none" stroke="#1f1f1f" stroke-width="1.3"/>
<path stroke="#2a2a2a" stroke-width="1.0" fill="none" d="M32.00 364.90H34.60M32.00 386.90H34.60M32.00 405.90H34.60M51.00 421.20V423.80M70.40 421.20V423.80M87.50 421.20V423.80M104.50 421.20V423.80"/>
<path stroke="#2a2a2a" stroke-width="0.75" fill="none" d="M33.10 380.28H34.60M33.10 376.40H34.60M33.10 373.65H34.60M33.10 371.52H34.60M33.10 369.78H34.60M33.10 368.31H34.60M33.10 367.03H34.60M33.10 365.91H34.60M33.10 358.28H34.60M33.10 354.40H34.60M33.10 351.65H34.60M33.10 349.52H34.60M33.10 347.78H34.60M33.10 396.00H34.60M33.10 400.00H34.60M33.10 410.00H34.60M33.10 414.00H34.60M33.10 418.00H34.60M75.55 421.20V422.60M78.56 421.20V422.60M80.70 421.20V422.60M82.35 421.20V422.60M83.71 421.20V422.60M84.85 421.20V422.60M85.84 421.20V422.60M86.72 421.20V422.60M92.62 421.20V422.60M95.61 421.20V422.60M97.74 421.20V422.60M99.38 421.20V422.60M100.73 421.20V422.60M101.87 421.20V422.60M102.85 421.20V422.60M103.72 421.20V422.60M40.00 421.20V422.60M43.00 421.20V422.60M46.00 421.20V422.60M55.00 421.20V422.60M58.00 421.20V422.60M62.00 421.20V422.60M65.00 421.20V422.60"/>
<rect x="32.30" y="404.50" width="2.30" height="2.80" fill="#2a2a2a"/>
<rect x="49.50" y="421.50" width="2.40" height="1.60" fill="#2a2a2a"/>
<text x="17.80" y="368.20" font-size="7.6" textLength="10.00" lengthAdjust="spacingAndGlyphs" stroke="#2a2a2a" stroke-width="0.2"><tspan>10</tspan><tspan dy="-3.19" font-size="6.08">4</tspan></text>
<text x="17.80" y="390.00" font-size="7.6" textLength="10.00" lengthAdjust="spacingAndGlyphs" stroke="#2a2a2a" stroke-width="0.2"><tspan>10</tspan><tspan dy="-3.19" font-size="6.08">3</tspan></text>
<text x="24.70" y="408.00" font-size="7.4" textLength="3.80" lengthAdjust="spacingAndGlyphs" stroke="#2a2a2a" stroke-width="0.2">0</text>
<text x="49.00" y="434.20" font-size="7.4" textLength="3.90" lengthAdjust="spacingAndGlyphs" stroke="#2a2a2a" stroke-width="0.2">0</text>
<text x="59.20" y="434.20" font-size="7.6" textLength="10.40" lengthAdjust="spacingAndGlyphs" stroke="#2a2a2a" stroke-width="0.2"><tspan>10</tspan><tspan dy="-3.19" font-size="6.08">3</tspan></text>
<text x="79.80" y="434.20" font-size="7.6" textLength="10.60" lengthAdjust="spacingAndGlyphs" stroke="#2a2a2a" stroke-width="0.2"><tspan>10</tspan><tspan dy="-3.19" font-size="6.08">4</tspan></text>
<text x="97.10" y="434.20" font-size="7.6" textLength="10.20" lengthAdjust="spacingAndGlyphs" stroke="#2a2a2a" stroke-width="0.2"><tspan>10</tspan><tspan dy="-3.19" font-size="6.08">5</tspan></text>
<g clip-path="url(#ec1)"><path filter="url(#ef1)" fill="#aab4dc" opacity="0.55" d="M136.5 371.0L141.0 364.0L158.0 361.5L178.0 360.5L196.0 355.0L202.0 355.0L200.0 362.0L197.5 385.0L197.5 414.5L141.0 414.5L136.0 404.0Z"/><path filter="url(#ef2)" fill="#9ea9d6" opacity="0.55" d="M139.5 378.0L168.0 380.0L182.0 385.0L196.0 382.0L196.5 413.5L143.0 413.5L139.0 396.0Z"/><path filter="url(#ef1)" fill="#7083bf" opacity="0.45" d="M168.0 390.0L182.0 392.0L188.0 400.0L186.0 413.5L170.0 413.5L168.0 400.0Z"/><path filter="url(#ef2)" fill="#4e6399" d="M142.0 399.0L144.5 393.2L153.0 391.8L162.0 392.3L167.5 395.0L168.5 403.0L167.0 410.0L160.0 413.0L150.0 413.0L144.0 411.0L141.5 406.0Z"/><path filter="url(#ef2)" fill="#4e6399" d="M180.5 392.0L195.0 388.0L195.3 395.0L195.0 408.0L193.5 413.0L188.0 413.8L183.0 411.0L181.5 402.0Z"/><path filter="url(#ef2)" fill="#5a70b0" opacity="0.6" d="M142.5 372.0L143.5 366.0L148.0 362.4L154.0 361.7L162.0 361.9L169.0 362.3L176.0 361.5L184.0 360.1L192.0 358.3L198.0 356.4L201.4 355.7L201.0 359.5L199.0 365.0L196.0 372.0L195.5 392.0L168.0 392.0L164.0 381.0L145.0 379.5L142.7 376.0Z"/><path filter="url(#ef3)" fill="#4e6399" d="M143.5 372.0L144.5 366.5L148.0 363.6L154.0 362.9L162.0 363.1L169.0 363.5L176.0 362.7L184.0 361.3L192.0 359.5L198.0 357.6L200.6 356.9L200.0 359.5L198.0 365.0L196.0 372.0L194.8 379.0L194.6 392.0L188.0 393.0L182.0 394.0L174.0 391.5L170.0 388.0L168.0 383.0L164.0 380.2L156.0 379.4L149.0 378.9L145.0 378.0L143.7 375.5Z"/></g>
<path fill="#4e6399" opacity="0.8" d="M199.8 353.0h.6v.6h-.6zM195.6 353.7h.6v.6h-.6zM193.5 354.4h.6v.6h-.6zM191.4 356.5h.6v.6h-.6zM197.0 356.5h.6v.6h-.6zM200.5 356.5h.6v.6h-.6zM202.6 356.5h.6v.6h-.6zM188.6 357.2h.6v.6h-.6zM199.8 357.2h.6v.6h-.6zM188.6 357.9h.6v.6h-.6zM159.2 358.6h.6v.6h-.6zM187.9 358.6h.6v.6h-.6zM201.9 358.6h.6v.6h-.6zM143.8 359.3h.6v.6h-.6zM175.3 359.3h.6v.6h-.6zM178.1 359.3h.6v.6h-.6zM182.3 359.3h.6v.6h-.6zM199.8 359.3h.6v.6h-.6zM201.2 359.3h.6v.6h-.6zM162.7 360.0h.6v.6h-.6zM174.6 360.0h.6v.6h-.6zM199.1 360.0h.6v.6h-.6zM200.5 360.0h.6v.6h-.6zM197.0 360.7h.6v.6h-.6zM197.7 360.7h.6v.6h-.6zM147.3 361.4h.6v.6h-.6zM197.7 361.4h.6v.6h-.6zM199.1 361.4h.6v.6h-.6zM152.9 362.1h.6v.6h-.6zM155.7 362.1h.6v.6h-.6zM157.1 362.1h.6v.6h-.6zM197.7 362.1h.6v.6h-.6zM204.0 362.8h.6v.6h-.6zM141.7 363.5h.6v.6h-.6zM155.7 363.5h.6v.6h-.6zM199.1 363.5h.6v.6h-.6zM141.0 364.2h.6v.6h-.6zM206.1 364.2h.6v.6h-.6zM138.9 364.9h.6v.6h-.6zM201.9 364.9h.6v.6h-.6zM197.0 365.6h.6v.6h-.6zM141.0 366.3h.6v.6h-.6zM142.4 367.0h.6v.6h-.6zM145.9 367.0h.6v.6h-.6zM198.4 367.0h.6v.6h-.6zM138.9 368.4h.6v.6h-.6zM142.4 368.4h.6v.6h-.6zM197.7 368.4h.6v.6h-.6zM199.1 368.4h.6v.6h-.6zM135.4 369.1h.6v.6h-.6zM136.1 369.1h.6v.6h-.6zM137.5 369.1h.6v.6h-.6zM141.7 369.1h.6v.6h-.6zM136.1 369.8h.6v.6h-.6zM204.0 369.8h.6v.6h-.6zM136.8 370.5h.6v.6h-.6zM199.8 370.5h.6v.6h-.6zM140.3 371.2h.6v.6h-.6zM141.7 371.2h.6v.6h-.6zM201.2 371.2h.6v.6h-.6zM144.5 371.9h.6v.6h-.6zM136.1 372.6h.6v.6h-.6zM139.6 372.6h.6v.6h-.6zM141.0 372.6h.6v.6h-.6zM143.1 372.6h.6v.6h-.6zM144.5 372.6h.6v.6h-.6zM197.0 372.6h.6v.6h-.6zM138.9 373.3h.6v.6h-.6zM139.6 373.3h.6v.6h-.6zM141.7 373.3h.6v.6h-.6zM144.5 373.3h.6v.6h-.6zM198.4 373.3h.6v.6h-.6zM199.8 373.3h.6v.6h-.6zM139.6 374.0h.6v.6h-.6zM200.5 374.0h.6v.6h-.6zM136.8 374.7h.6v.6h-.6zM138.9 374.7h.6v.6h-.6zM202.6 374.7h.6v.6h-.6zM204.0 374.7h.6v.6h-.6zM133.3 375.4h.6v.6h-.6zM137.5 375.4h.6v.6h-.6zM140.3 375.4h.6v.6h-.6zM199.1 375.4h.6v.6h-.6zM201.2 375.4h.6v.6h-.6zM136.1 376.1h.6v.6h-.6zM136.8 376.1h.6v.6h-.6zM143.1 376.1h.6v.6h-.6zM199.8 376.1h.6v.6h-.6zM139.6 376.8h.6v.6h-.6zM197.7 376.8h.6v.6h-.6zM142.4 377.5h.6v.6h-.6zM196.3 377.5h.6v.6h-.6zM197.7 377.5h.6v.6h-.6zM134.0 378.2h.6v.6h-.6zM136.1 378.2h.6v.6h-.6zM138.2 378.2h.6v.6h-.6zM138.9 378.2h.6v.6h-.6zM143.8 378.2h.6v.6h-.6zM145.2 378.2h.6v.6h-.6zM151.5 378.2h.6v.6h-.6zM137.5 378.9h.6v.6h-.6zM148.7 378.9h.6v.6h-.6zM197.7 378.9h.6v.6h-.6zM136.8 379.6h.6v.6h-.6zM139.6 379.6h.6v.6h-.6zM154.3 379.6h.6v.6h-.6zM197.7 379.6h.6v.6h-.6zM137.5 380.3h.6v.6h-.6zM138.9 380.3h.6v.6h-.6zM140.3 380.3h.6v.6h-.6zM146.6 380.3h.6v.6h-.6zM154.3 380.3h.6v.6h-.6zM158.5 380.3h.6v.6h-.6zM143.1 381.0h.6v.6h-.6zM145.9 381.0h.6v.6h-.6zM152.2 381.0h.6v.6h-.6zM152.9 381.0h.6v.6h-.6zM157.8 381.0h.6v.6h-.6zM164.1 381.0h.6v.6h-.6zM165.5 381.0h.6v.6h-.6zM135.4 381.7h.6v.6h-.6zM143.1 381.7h.6v.6h-.6zM146.6 381.7h.6v.6h-.6zM150.8 381.7h.6v.6h-.6zM152.2 381.7h.6v.6h-.6zM154.3 381.7h.6v.6h-.6zM160.6 381.7h.6v.6h-.6zM194.9 381.7h.6v.6h-.6zM196.3 381.7h.6v.6h-.6zM139.6 382.4h.6v.6h-.6zM140.3 382.4h.6v.6h-.6zM141.0 382.4h.6v.6h-.6zM147.3 382.4h.6v.6h-.6zM154.3 382.4h.6v.6h-.6zM159.9 382.4h.6v.6h-.6zM160.6 382.4h.6v.6h-.6zM169.7 382.4h.6v.6h-.6zM170.4 382.4h.6v.6h-.6zM137.5 383.1h.6v.6h-.6zM144.5 383.1h.6v.6h-.6zM148.7 383.1h.6v.6h-.6zM159.9 383.1h.6v.6h-.6zM162.0 383.1h.6v.6h-.6zM172.5 383.1h.6v.6h-.6zM173.2 383.1h.6v.6h-.6zM175.3 383.1h.6v.6h-.6zM196.3 383.1h.6v.6h-.6zM197.0 383.1h.6v.6h-.6zM198.4 383.1h.6v.6h-.6zM134.7 383.8h.6v.6h-.6zM159.9 383.8h.6v.6h-.6zM160.6 383.8h.6v.6h-.6zM162.7 383.8h.6v.6h-.6zM164.1 383.8h.6v.6h-.6zM164.8 383.8h.6v.6h-.6zM166.2 383.8h.6v.6h-.6zM171.1 383.8h.6v.6h-.6zM182.3 383.8h.6v.6h-.6zM134.7 384.5h.6v.6h-.6zM136.1 384.5h.6v.6h-.6zM138.2 384.5h.6v.6h-.6zM146.6 384.5h.6v.6h-.6zM153.6 384.5h.6v.6h-.6zM157.8 384.5h.6v.6h-.6zM161.3 384.5h.6v.6h-.6zM166.2 384.5h.6v.6h-.6zM173.2 384.5h.6v.6h-.6zM173.9 384.5h.6v.6h-.6zM176.0 384.5h.6v.6h-.6zM177.4 384.5h.6v.6h-.6zM183.0 384.5h.6v.6h-.6zM133.3 385.2h.6v.6h-.6zM137.5 385.2h.6v.6h-.6zM138.2 385.2h.6v.6h-.6zM138.9 385.2h.6v.6h-.6zM158.5 385.2h.6v.6h-.6zM161.3 385.2h.6v.6h-.6zM165.5 385.2h.6v.6h-.6zM166.2 385.2h.6v.6h-.6zM166.9 385.2h.6v.6h-.6zM168.3 385.2h.6v.6h-.6zM173.2 385.2h.6v.6h-.6zM175.3 385.2h.6v.6h-.6zM176.7 385.2h.6v.6h-.6zM178.8 385.2h.6v.6h-.6zM186.5 385.2h.6v.6h-.6zM190.0 385.2h.6v.6h-.6zM137.5 385.9h.6v.6h-.6zM144.5 385.9h.6v.6h-.6zM145.2 385.9h.6v.6h-.6zM147.3 385.9h.6v.6h-.6zM150.8 385.9h.6v.6h-.6zM159.9 385.9h.6v.6h-.6zM168.3 385.9h.6v.6h-.6zM173.2 385.9h.6v.6h-.6zM186.5 385.9h.6v.6h-.6zM190.7 385.9h.6v.6h-.6zM141.7 386.6h.6v.6h-.6zM154.3 386.6h.6v.6h-.6zM157.1 386.6h.6v.6h-.6zM165.5 386.6h.6v.6h-.6zM168.3 386.6h.6v.6h-.6zM171.1 386.6h.6v.6h-.6zM172.5 386.6h.6v.6h-.6zM173.9 386.6h.6v.6h-.6zM174.6 386.6h.6v.6h-.6zM175.3 386.6h.6v.6h-.6zM187.2 386.6h.6v.6h-.6zM189.3 386.6h.6v.6h-.6zM194.2 386.6h.6v.6h-.6zM200.5 386.6h.6v.6h-.6zM141.0 387.3h.6v.6h-.6zM152.2 387.3h.6v.6h-.6zM157.8 387.3h.6v.6h-.6zM161.3 387.3h.6v.6h-.6zM166.2 387.3h.6v.6h-.6zM171.1 387.3h.6v.6h-.6zM171.8 387.3h.6v.6h-.6zM173.9 387.3h.6v.6h-.6zM175.3 387.3h.6v.6h-.6zM176.0 387.3h.6v.6h-.6zM180.2 387.3h.6v.6h-.6zM188.6 387.3h.6v.6h-.6zM192.8 387.3h.6v.6h-.6zM194.2 387.3h.6v.6h-.6zM196.3 387.3h.6v.6h-.6zM197.7 387.3h.6v.6h-.6zM135.4 388.0h.6v.6h-.6zM136.8 388.0h.6v.6h-.6zM138.2 388.0h.6v.6h-.6zM141.0 388.0h.6v.6h-.6zM143.1 388.0h.6v.6h-.6zM149.4 388.0h.6v.6h-.6zM156.4 388.0h.6v.6h-.6zM164.1 388.0h.6v.6h-.6zM172.5 388.0h.6v.6h-.6zM173.9 388.0h.6v.6h-.6zM174.6 388.0h.6v.6h-.6zM176.0 388.0h.6v.6h-.6zM178.1 388.0h.6v.6h-.6zM181.6 388.0h.6v.6h-.6zM182.3 388.0h.6v.6h-.6zM183.0 388.0h.6v.6h-.6zM188.6 388.0h.6v.6h-.6zM194.9 388.0h.6v.6h-.6zM195.6 388.0h.6v.6h-.6zM196.3 388.0h.6v.6h-.6zM197.0 388.0h.6v.6h-.6zM141.0 388.7h.6v.6h-.6zM141.7 388.7h.6v.6h-.6zM143.8 388.7h.6v.6h-.6zM145.2 388.7h.6v.6h-.6zM150.1 388.7h.6v.6h-.6zM155.0 388.7h.6v.6h-.6zM156.4 388.7h.6v.6h-.6zM159.2 388.7h.6v.6h-.6zM162.7 388.7h.6v.6h-.6zM164.1 388.7h.6v.6h-.6zM168.3 388.7h.6v.6h-.6zM171.1 388.7h.6v.6h-.6zM171.8 388.7h.6v.6h-.6zM174.6 388.7h.6v.6h-.6zM177.4 388.7h.6v.6h-.6zM179.5 388.7h.6v.6h-.6zM181.6 388.7h.6v.6h-.6zM183.7 388.7h.6v.6h-.6zM185.1 388.7h.6v.6h-.6zM186.5 388.7h.6v.6h-.6zM197.0 388.7h.6v.6h-.6zM138.9 389.4h.6v.6h-.6zM140.3 389.4h.6v.6h-.6zM142.4 389.4h.6v.6h-.6zM143.1 389.4h.6v.6h-.6zM146.6 389.4h.6v.6h-.6zM151.5 389.4h.6v.6h-.6zM157.1 389.4h.6v.6h-.6zM158.5 389.4h.6v.6h-.6zM161.3 389.4h.6v.6h-.6zM169.7 389.4h.6v.6h-.6zM170.4 389.4h.6v.6h-.6zM173.2 389.4h.6v.6h-.6zM176.0 389.4h.6v.6h-.6zM184.4 389.4h.6v.6h-.6zM185.8 389.4h.6v.6h-.6zM187.2 389.4h.6v.6h-.6zM191.4 389.4h.6v.6h-.6zM136.8 390.1h.6v.6h-.6zM137.5 390.1h.6v.6h-.6zM141.7 390.1h.6v.6h-.6zM143.8 390.1h.6v.6h-.6zM148.0 390.1h.6v.6h-.6zM152.2 390.1h.6v.6h-.6zM153.6 390.1h.6v.6h-.6zM155.7 390.1h.6v.6h-.6zM159.9 390.1h.6v.6h-.6zM160.6 390.1h.6v.6h-.6zM166.9 390.1h.6v.6h-.6zM167.6 390.1h.6v.6h-.6zM171.8 390.1h.6v.6h-.6zM177.4 390.1h.6v.6h-.6zM178.1 390.1h.6v.6h-.6zM181.6 390.1h.6v.6h-.6zM188.6 390.1h.6v.6h-.6zM189.3 390.1h.6v.6h-.6zM148.0 390.8h.6v.6h-.6zM149.4 390.8h.6v.6h-.6zM153.6 390.8h.6v.6h-.6zM154.3 390.8h.6v.6h-.6zM155.0 390.8h.6v.6h-.6zM159.2 390.8h.6v.6h-.6zM164.1 390.8h.6v.6h-.6zM173.2 390.8h.6v.6h-.6zM178.1 390.8h.6v.6h-.6zM180.2 390.8h.6v.6h-.6zM183.0 390.8h.6v.6h-.6zM186.5 390.8h.6v.6h-.6zM187.2 390.8h.6v.6h-.6zM188.6 390.8h.6v.6h-.6zM194.9 390.8h.6v.6h-.6zM138.2 391.5h.6v.6h-.6zM138.9 391.5h.6v.6h-.6zM140.3 391.5h.6v.6h-.6zM145.9 391.5h.6v.6h-.6zM163.4 391.5h.6v.6h-.6zM176.0 391.5h.6v.6h-.6zM185.1 391.5h.6v.6h-.6zM190.0 391.5h.6v.6h-.6zM190.7 391.5h.6v.6h-.6zM146.6 392.2h.6v.6h-.6zM149.4 392.2h.6v.6h-.6zM157.8 392.2h.6v.6h-.6zM159.2 392.2h.6v.6h-.6zM162.0 392.2h.6v.6h-.6zM171.1 392.2h.6v.6h-.6zM173.2 392.2h.6v.6h-.6zM178.1 392.2h.6v.6h-.6zM190.7 392.2h.6v.6h-.6zM192.1 392.2h.6v.6h-.6zM194.9 392.2h.6v.6h-.6zM200.5 392.2h.6v.6h-.6zM136.1 392.9h.6v.6h-.6zM145.2 392.9h.6v.6h-.6zM152.2 392.9h.6v.6h-.6zM152.9 392.9h.6v.6h-.6zM161.3 392.9h.6v.6h-.6zM163.4 392.9h.6v.6h-.6zM169.0 392.9h.6v.6h-.6zM171.8 392.9h.6v.6h-.6zM173.2 392.9h.6v.6h-.6zM174.6 392.9h.6v.6h-.6zM176.7 392.9h.6v.6h-.6zM177.4 392.9h.6v.6h-.6zM179.5 392.9h.6v.6h-.6zM181.6 392.9h.6v.6h-.6zM184.4 392.9h.6v.6h-.6zM187.9 392.9h.6v.6h-.6zM188.6 392.9h.6v.6h-.6zM200.5 392.9h.6v.6h-.6zM152.9 393.6h.6v.6h-.6zM155.7 393.6h.6v.6h-.6zM159.2 393.6h.6v.6h-.6zM159.9 393.6h.6v.6h-.6zM161.3 393.6h.6v.6h-.6zM174.6 393.6h.6v.6h-.6zM178.1 393.6h.6v.6h-.6zM185.8 393.6h.6v.6h-.6zM144.5 394.3h.6v.6h-.6zM169.0 394.3h.6v.6h-.6zM172.5 394.3h.6v.6h-.6zM174.6 394.3h.6v.6h-.6zM177.4 394.3h.6v.6h-.6zM178.8 394.3h.6v.6h-.6zM183.7 394.3h.6v.6h-.6zM141.0 395.0h.6v.6h-.6zM142.4 395.0h.6v.6h-.6zM143.8 395.0h.6v.6h-.6zM145.9 395.0h.6v.6h-.6zM146.6 395.0h.6v.6h-.6zM148.0 395.0h.6v.6h-.6zM150.1 395.0h.6v.6h-.6zM150.8 395.0h.6v.6h-.6zM151.5 395.0h.6v.6h-.6zM162.7 395.0h.6v.6h-.6zM165.5 395.0h.6v.6h-.6zM170.4 395.0h.6v.6h-.6zM176.0 395.0h.6v.6h-.6zM185.8 395.0h.6v.6h-.6zM187.2 395.0h.6v.6h-.6zM187.9 395.0h.6v.6h-.6zM189.3 395.0h.6v.6h-.6zM190.0 395.0h.6v.6h-.6zM192.8 395.0h.6v.6h-.6zM193.5 395.0h.6v.6h-.6zM135.4 395.7h.6v.6h-.6zM136.8 395.7h.6v.6h-.6zM140.3 395.7h.6v.6h-.6zM148.7 395.7h.6v.6h-.6zM164.1 395.7h.6v.6h-.6zM164.8 395.7h.6v.6h-.6zM165.5 395.7h.6v.6h-.6zM167.6 395.7h.6v.6h-.6zM180.2 395.7h.6v.6h-.6zM194.2 395.7h.6v.6h-.6zM194.9 395.7h.6v.6h-.6zM199.1 395.7h.6v.6h-.6zM152.2 396.4h.6v.6h-.6zM155.7 396.4h.6v.6h-.6zM159.2 396.4h.6v.6h-.6zM160.6 396.4h.6v.6h-.6zM162.7 396.4h.6v.6h-.6zM171.1 396.4h.6v.6h-.6zM177.4 396.4h.6v.6h-.6zM197.0 396.4h.6v.6h-.6zM139.6 397.1h.6v.6h-.6zM141.7 397.1h.6v.6h-.6zM142.4 397.1h.6v.6h-.6zM147.3 397.1h.6v.6h-.6zM150.8 397.1h.6v.6h-.6zM152.9 397.1h.6v.6h-.6zM169.7 397.1h.6v.6h-.6zM173.2 397.1h.6v.6h-.6zM173.9 397.1h.6v.6h-.6zM176.7 397.1h.6v.6h-.6zM177.4 397.1h.6v.6h-.6zM178.8 397.1h.6v.6h-.6zM179.5 397.1h.6v.6h-.6zM185.1 397.1h.6v.6h-.6zM150.8 397.8h.6v.6h-.6zM154.3 397.8h.6v.6h-.6zM155.0 397.8h.6v.6h-.6zM155.7 397.8h.6v.6h-.6zM159.9 397.8h.6v.6h-.6zM165.5 397.8h.6v.6h-.6zM170.4 397.8h.6v.6h-.6zM176.7 397.8h.6v.6h-.6zM178.8 397.8h.6v.6h-.6zM185.1 397.8h.6v.6h-.6zM190.0 397.8h.6v.6h-.6zM138.2 398.5h.6v.6h-.6zM140.3 398.5h.6v.6h-.6zM143.8 398.5h.6v.6h-.6zM145.2 398.5h.6v.6h-.6zM148.7 398.5h.6v.6h-.6zM152.9 398.5h.6v.6h-.6zM157.8 398.5h.6v.6h-.6zM159.9 398.5h.6v.6h-.6zM169.7 398.5h.6v.6h-.6zM171.1 398.5h.6v.6h-.6zM171.8 398.5h.6v.6h-.6zM172.5 398.5h.6v.6h-.6zM176.0 398.5h.6v.6h-.6zM176.7 398.5h.6v.6h-.6zM198.4 398.5h.6v.6h-.6zM199.8 398.5h.6v.6h-.6zM136.1 399.2h.6v.6h-.6zM148.0 399.2h.6v.6h-.6zM150.1 399.2h.6v.6h-.6zM155.7 399.2h.6v.6h-.6zM159.2 399.2h.6v.6h-.6zM159.9 399.2h.6v.6h-.6zM162.0 399.2h.6v.6h-.6zM182.3 399.2h.6v.6h-.6zM185.1 399.2h.6v.6h-.6zM186.5 399.2h.6v.6h-.6zM188.6 399.2h.6v.6h-.6zM136.1 399.9h.6v.6h-.6zM138.2 399.9h.6v.6h-.6zM138.9 399.9h.6v.6h-.6zM141.7 399.9h.6v.6h-.6zM142.4 399.9h.6v.6h-.6zM145.2 399.9h.6v.6h-.6zM149.4 399.9h.6v.6h-.6zM169.0 399.9h.6v.6h-.6zM172.5 399.9h.6v.6h-.6zM173.9 399.9h.6v.6h-.6zM178.8 399.9h.6v.6h-.6zM187.2 399.9h.6v.6h-.6zM193.5 399.9h.6v.6h-.6zM195.6 399.9h.6v.6h-.6zM140.3 400.6h.6v.6h-.6zM147.3 400.6h.6v.6h-.6zM148.7 400.6h.6v.6h-.6zM159.2 400.6h.6v.6h-.6zM160.6 400.6h.6v.6h-.6zM162.7 400.6h.6v.6h-.6zM164.1 400.6h.6v.6h-.6zM165.5 400.6h.6v.6h-.6zM167.6 400.6h.6v.6h-.6zM168.3 400.6h.6v.6h-.6zM171.1 400.6h.6v.6h-.6zM172.5 400.6h.6v.6h-.6zM178.8 400.6h.6v.6h-.6zM180.9 400.6h.6v.6h-.6zM185.1 400.6h.6v.6h-.6zM190.0 400.6h.6v.6h-.6zM138.9 401.3h.6v.6h-.6zM139.6 401.3h.6v.6h-.6zM143.1 401.3h.6v.6h-.6zM148.0 401.3h.6v.6h-.6zM150.8 401.3h.6v.6h-.6zM151.5 401.3h.6v.6h-.6zM157.1 401.3h.6v.6h-.6zM162.0 401.3h.6v.6h-.6zM173.2 401.3h.6v.6h-.6zM180.9 401.3h.6v.6h-.6zM183.0 401.3h.6v.6h-.6zM187.9 401.3h.6v.6h-.6zM190.7 401.3h.6v.6h-.6zM197.0 401.3h.6v.6h-.6zM136.1 402.0h.6v.6h-.6zM141.0 402.0h.6v.6h-.6zM141.7 402.0h.6v.6h-.6zM158.5 402.0h.6v.6h-.6zM160.6 402.0h.6v.6h-.6zM171.8 402.0h.6v.6h-.6zM176.0 402.0h.6v.6h-.6zM176.7 402.0h.6v.6h-.6zM183.7 402.0h.6v.6h-.6zM185.1 402.0h.6v.6h-.6zM192.8 402.0h.6v.6h-.6zM194.9 402.0h.6v.6h-.6zM136.1 402.7h.6v.6h-.6zM138.2 402.7h.6v.6h-.6zM150.8 402.7h.6v.6h-.6zM151.5 402.7h.6v.6h-.6zM155.0 402.7h.6v.6h-.6zM175.3 402.7h.6v.6h-.6zM183.7 402.7h.6v.6h-.6zM184.4 402.7h.6v.6h-.6zM194.9 402.7h.6v.6h-.6zM200.5 402.7h.6v.6h-.6zM146.6 403.4h.6v.6h-.6zM158.5 403.4h.6v.6h-.6zM168.3 403.4h.6v.6h-.6zM173.2 403.4h.6v.6h-.6zM177.4 403.4h.6v.6h-.6zM178.8 403.4h.6v.6h-.6zM182.3 403.4h.6v.6h-.6zM183.7 403.4h.6v.6h-.6zM185.1 403.4h.6v.6h-.6zM188.6 403.4h.6v.6h-.6zM192.8 403.4h.6v.6h-.6zM143.8 404.1h.6v.6h-.6zM149.4 404.1h.6v.6h-.6zM150.8 404.1h.6v.6h-.6zM152.2 404.1h.6v.6h-.6zM155.0 404.1h.6v.6h-.6zM164.1 404.1h.6v.6h-.6zM166.9 404.1h.6v.6h-.6zM170.4 404.1h.6v.6h-.6zM187.2 404.1h.6v.6h-.6zM136.1 404.8h.6v.6h-.6zM138.9 404.8h.6v.6h-.6zM139.6 404.8h.6v.6h-.6zM148.7 404.8h.6v.6h-.6zM150.8 404.8h.6v.6h-.6zM159.2 404.8h.6v.6h-.6zM174.6 404.8h.6v.6h-.6zM179.5 404.8h.6v.6h-.6zM184.4 404.8h.6v.6h-.6zM185.8 404.8h.6v.6h-.6zM188.6 404.8h.6v.6h-.6zM143.8 405.5h.6v.6h-.6zM145.2 405.5h.6v.6h-.6zM152.9 405.5h.6v.6h-.6zM157.8 405.5h.6v.6h-.6zM172.5 405.5h.6v.6h-.6zM174.6 405.5h.6v.6h-.6zM187.2 405.5h.6v.6h-.6zM192.8 405.5h.6v.6h-.6zM193.5 405.5h.6v.6h-.6zM194.9 405.5h.6v.6h-.6zM137.5 406.2h.6v.6h-.6zM139.6 406.2h.6v.6h-.6zM147.3 406.2h.6v.6h-.6zM148.0 406.2h.6v.6h-.6zM150.1 406.2h.6v.6h-.6zM152.9 406.2h.6v.6h-.6zM157.1 406.2h.6v.6h-.6zM158.5 406.2h.6v.6h-.6zM161.3 406.2h.6v.6h-.6zM163.4 406.2h.6v.6h-.6zM164.8 406.2h.6v.6h-.6zM168.3 406.2h.6v.6h-.6zM169.7 406.2h.6v.6h-.6zM170.4 406.2h.6v.6h-.6zM188.6 406.2h.6v.6h-.6zM192.8 406.2h.6v.6h-.6zM135.4 406.9h.6v.6h-.6zM138.9 406.9h.6v.6h-.6zM139.6 406.9h.6v.6h-.6zM143.1 406.9h.6v.6h-.6zM144.5 406.9h.6v.6h-.6zM158.5 406.9h.6v.6h-.6zM159.2 406.9h.6v.6h-.6zM164.8 406.9h.6v.6h-.6zM169.7 406.9h.6v.6h-.6zM171.1 406.9h.6v.6h-.6zM172.5 406.9h.6v.6h-.6zM176.0 406.9h.6v.6h-.6zM178.1 406.9h.6v.6h-.6zM185.8 406.9h.6v.6h-.6zM188.6 406.9h.6v.6h-.6zM192.8 406.9h.6v.6h-.6zM194.9 406.9h.6v.6h-.6zM137.5 407.6h.6v.6h-.6zM138.2 407.6h.6v.6h-.6zM141.0 407.6h.6v.6h-.6zM142.4 407.6h.6v.6h-.6zM157.1 407.6h.6v.6h-.6zM160.6 407.6h.6v.6h-.6zM164.1 407.6h.6v.6h-.6zM168.3 407.6h.6v.6h-.6zM171.8 407.6h.6v.6h-.6zM177.4 407.6h.6v.6h-.6zM178.1 407.6h.6v.6h-.6zM180.2 407.6h.6v.6h-.6zM183.7 407.6h.6v.6h-.6zM186.5 407.6h.6v.6h-.6zM189.3 407.6h.6v.6h-.6zM190.7 407.6h.6v.6h-.6zM197.0 407.6h.6v.6h-.6zM138.2 408.3h.6v.6h-.6zM139.6 408.3h.6v.6h-.6zM143.1 408.3h.6v.6h-.6zM148.7 408.3h.6v.6h-.6zM151.5 408.3h.6v.6h-.6zM155.0 408.3h.6v.6h-.6zM157.8 408.3h.6v.6h-.6zM164.1 408.3h.6v.6h-.6zM166.2 408.3h.6v.6h-.6zM169.7 408.3h.6v.6h-.6zM171.1 408.3h.6v.6h-.6zM171.8 408.3h.6v.6h-.6zM175.3 408.3h.6v.6h-.6zM176.7 408.3h.6v.6h-.6zM180.2 408.3h.6v.6h-.6zM186.5 408.3h.6v.6h-.6zM196.3 408.3h.6v.6h-.6zM136.1 409.0h.6v.6h-.6zM145.2 409.0h.6v.6h-.6zM147.3 409.0h.6v.6h-.6zM148.7 409.0h.6v.6h-.6zM150.8 409.0h.6v.6h-.6zM151.5 409.0h.6v.6h-.6zM157.1 409.0h.6v.6h-.6zM157.8 409.0h.6v.6h-.6zM166.2 409.0h.6v.6h-.6zM169.0 409.0h.6v.6h-.6zM178.1 409.0h.6v.6h-.6zM181.6 409.0h.6v.6h-.6zM183.0 409.0h.6v.6h-.6zM184.4 409.0h.6v.6h-.6zM185.1 409.0h.6v.6h-.6zM195.6 409.0h.6v.6h-.6zM199.1 409.0h.6v.6h-.6zM138.2 409.7h.6v.6h-.6zM139.6 409.7h.6v.6h-.6zM140.3 409.7h.6v.6h-.6zM145.2 409.7h.6v.6h-.6zM148.0 409.7h.6v.6h-.6zM149.4 409.7h.6v.6h-.6zM150.1 409.7h.6v.6h-.6zM154.3 409.7h.6v.6h-.6zM155.7 409.7h.6v.6h-.6zM157.8 409.7h.6v.6h-.6zM159.9 409.7h.6v.6h-.6zM169.0 409.7h.6v.6h-.6zM173.2 409.7h.6v.6h-.6zM176.0 409.7h.6v.6h-.6zM183.0 409.7h.6v.6h-.6zM143.1 410.4h.6v.6h-.6zM149.4 410.4h.6v.6h-.6zM151.5 410.4h.6v.6h-.6zM156.4 410.4h.6v.6h-.6zM157.1 410.4h.6v.6h-.6zM160.6 410.4h.6v.6h-.6zM162.0 410.4h.6v.6h-.6zM171.8 410.4h.6v.6h-.6zM173.9 410.4h.6v.6h-.6zM190.7 410.4h.6v.6h-.6zM157.8 411.1h.6v.6h-.6zM166.2 411.1h.6v.6h-.6zM168.3 411.1h.6v.6h-.6zM177.4 411.1h.6v.6h-.6zM178.1 411.1h.6v.6h-.6zM187.9 411.1h.6v.6h-.6zM191.4 411.1h.6v.6h-.6zM194.9 411.1h.6v.6h-.6zM145.2 411.8h.6v.6h-.6zM147.3 411.8h.6v.6h-.6zM152.2 411.8h.6v.6h-.6zM156.4 411.8h.6v.6h-.6zM163.4 411.8h.6v.6h-.6zM180.2 411.8h.6v.6h-.6zM192.1 411.8h.6v.6h-.6zM194.2 411.8h.6v.6h-.6zM198.4 411.8h.6v.6h-.6zM143.8 412.5h.6v.6h-.6zM144.5 412.5h.6v.6h-.6zM148.7 412.5h.6v.6h-.6zM164.1 412.5h.6v.6h-.6zM166.9 412.5h.6v.6h-.6zM175.3 412.5h.6v.6h-.6zM184.4 412.5h.6v.6h-.6zM190.7 412.5h.6v.6h-.6zM192.1 412.5h.6v.6h-.6zM196.3 412.5h.6v.6h-.6zM143.8 413.2h.6v.6h-.6zM144.5 413.2h.6v.6h-.6zM170.4 413.2h.6v.6h-.6zM192.8 413.2h.6v.6h-.6zM195.6 413.2h.6v.6h-.6zM137.5 413.9h.6v.6h-.6zM146.6 413.9h.6v.6h-.6zM150.8 413.9h.6v.6h-.6zM152.2 413.9h.6v.6h-.6zM155.0 413.9h.6v.6h-.6zM159.9 413.9h.6v.6h-.6zM167.6 413.9h.6v.6h-.6zM172.5 413.9h.6v.6h-.6zM174.6 413.9h.6v.6h-.6zM188.6 413.9h.6v.6h-.6zM192.1 413.9h.6v.6h-.6zM194.9 413.9h.6v.6h-.6zM139.6 414.6h.6v.6h-.6zM145.2 414.6h.6v.6h-.6zM148.7 414.6h.6v.6h-.6zM159.2 414.6h.6v.6h-.6zM166.9 414.6h.6v.6h-.6zM173.9 414.6h.6v.6h-.6zM193.5 414.6h.6v.6h-.6zM196.3 414.6h.6v.6h-.6zM190.7 415.3h.6v.6h-.6zM192.8 415.3h.6v.6h-.6zM138.2 416.0h.6v.6h-.6zM182.3 416.7h.6v.6h-.6zM193.5 416.7h.6v.6h-.6zM149.4 417.4h.6v.6h-.6zM196.3 417.4h.6v.6h-.6z"/>
<g filter="url(#eb2)"><ellipse cx="150.70" cy="369.4" rx="7.0" ry="4.2" fill="#5a8ed0" opacity="0.75"/><ellipse cx="151.10" cy="369.4" rx="3.8" ry="2.5" fill="#7ccbed"/><ellipse cx="189.20" cy="370.70" rx="16" ry="6.2" transform="rotate(-50 189.20 370.70)" fill="#5b92d2" opacity="0.85"/><ellipse cx="188.20" cy="372.40" rx="12" ry="4.6" transform="rotate(-52 188.20 372.40)" fill="#6cc2ea"/></g><g filter="url(#eb3)"><ellipse cx="188.80" cy="372.60" rx="5.6" ry="3.9" transform="rotate(-70 188.80 372.60)" fill="#8dc85a"/><ellipse cx="189.10" cy="371.40" rx="3.0" ry="2.5" transform="rotate(-70 189.10 371.40)" fill="#f3df3a"/><circle cx="189.20" cy="371.10" r="1.35" fill="#e3392b"/></g>
<line x1="169.00" y1="346.40" x2="169.00" y2="421.10" stroke="#d05c64" stroke-width="1.2"/>
<line x1="132.30" y1="389.60" x2="208.00" y2="389.60" stroke="#d05c64" stroke-width="1.2"/>
<rect x="132.30" y="346.40" width="75.70" height="74.70" fill="none" stroke="#1f1f1f" stroke-width="1.3"/>
<path stroke="#2a2a2a" stroke-width="1.0" fill="none" d="M129.70 364.90H132.30M129.70 386.90H132.30M129.70 405.90H132.30M149.00 421.10V423.70M168.40 421.10V423.70M185.50 421.10V423.70M202.50 421.10V423.70"/>
<path stroke="#2a2a2a" stroke-width="0.75" fill="none" d="M130.80 380.28H132.30M130.80 376.40H132.30M130.80 373.65H132.30M130.80 371.52H132.30M130.80 369.78H132.30M130.80 368.31H132.30M130.80 367.03H132.30M130.80 365.91H132.30M130.80 358.28H132.30M130.80 354.40H132.30M130.80 351.65H132.30M130.80 349.52H132.30M130.80 347.78H132.30M130.80 396.00H132.30M130.80 400.00H132.30M130.80 410.00H132.30M130.80 414.00H132.30M130.80 418.00H132.30M173.55 421.10V422.50M176.56 421.10V422.50M178.70 421.10V422.50M180.35 421.10V422.50M181.71 421.10V422.50M182.85 421.10V422.50M183.84 421.10V422.50M184.72 421.10V422.50M190.62 421.10V422.50M193.61 421.10V422.50M195.74 421.10V422.50M197.38 421.10V422.50M198.73 421.10V422.50M199.87 421.10V422.50M200.85 421.10V422.50M201.72 421.10V422.50M138.00 421.10V422.50M141.00 421.10V422.50M144.00 421.10V422.50M153.00 421.10V422.50M156.00 421.10V422.50M160.00 421.10V422.50M163.00 421.10V422.50"/>
<rect x="130.00" y="404.50" width="2.30" height="2.80" fill="#2a2a2a"/>
<rect x="147.50" y="421.40" width="2.40" height="1.60" fill="#2a2a2a"/>
<text x="115.50" y="368.20" font-size="7.6" textLength="10.00" lengthAdjust="spacingAndGlyphs" stroke="#2a2a2a" stroke-width="0.2"><tspan>10</tspan><tspan dy="-3.19" font-size="6.08">4</tspan></text>
<text x="115.50" y="390.00" font-size="7.6" textLength="10.00" lengthAdjust="spacingAndGlyphs" stroke="#2a2a2a" stroke-width="0.2"><tspan>10</tspan><tspan dy="-3.19" font-size="6.08">3</tspan></text>
<text x="122.40" y="408.00" font-size="7.4" textLength="3.80" lengthAdjust="spacingAndGlyphs" stroke="#2a2a2a" stroke-width="0.2">0</text>
<text x="147.80" y="434.20" font-size="7.4" textLength="3.90" lengthAdjust="spacingAndGlyphs" stroke="#2a2a2a" stroke-width="0.2">0</text>
<text x="157.90" y="434.20" font-size="7.6" textLength="10.40" lengthAdjust="spacingAndGlyphs" stroke="#2a2a2a" stroke-width="0.2"><tspan>10</tspan><tspan dy="-3.19" font-size="6.08">3</tspan></text>
<text x="178.10" y="434.20" font-size="7.6" textLength="10.60" lengthAdjust="spacingAndGlyphs" stroke="#2a2a2a" stroke-width="0.2"><tspan>10</tspan><tspan dy="-3.19" font-size="6.08">4</tspan></text>
<text x="195.10" y="434.20" font-size="7.6" textLength="10.20" lengthAdjust="spacingAndGlyphs" stroke="#2a2a2a" stroke-width="0.2"><tspan>10</tspan><tspan dy="-3.19" font-size="6.08">5</tspan></text>
<text x="36.00" y="354.20" font-size="6.8" textLength="22.50" lengthAdjust="spacingAndGlyphs" stroke="#2a2a2a" stroke-width="0.2">6.3±0.2</text>
<text x="106.90" y="354.20" font-size="6.8" text-anchor="end" textLength="25.80" lengthAdjust="spacingAndGlyphs" stroke="#2a2a2a" stroke-width="0.2">88.6±0.3</text>
<text x="105.10" y="419.00" font-size="6.8" text-anchor="end" textLength="22.00" lengthAdjust="spacingAndGlyphs" stroke="#2a2a2a" stroke-width="0.2">2.5±0.1</text>
<text x="135.00" y="354.20" font-size="6.8" textLength="22.40" lengthAdjust="spacingAndGlyphs" stroke="#2a2a2a" stroke-width="0.2">6.5±0.2</text>
<text x="205.90" y="354.20" font-size="6.8" text-anchor="end" textLength="25.90" lengthAdjust="spacingAndGlyphs" stroke="#2a2a2a" stroke-width="0.2">88.6±0.3</text>
<line x1="11.50" y1="357.50" x2="11.50" y2="404.90" stroke="#2a2a2a" stroke-width="1.2"/>
<path d="M11.5 350.3L14.6 358.6L11.5 357L8.4 358.6Z" fill="#2a2a2a"/>
<text x="14.00" y="424.30" font-size="9.0" textLength="16.10" lengthAdjust="spacingAndGlyphs" transform="rotate(-90 14.00 424.30)" stroke="#2a2a2a" stroke-width="0.2">CD4</text>
<text x="33.70" y="444.20" font-size="9.0" textLength="16.30" lengthAdjust="spacingAndGlyphs" stroke="#2a2a2a" stroke-width="0.2">CD8</text>
<line x1="53.50" y1="441.50" x2="191.00" y2="441.50" stroke="#2a2a2a" stroke-width="1.2"/>
<path d="M197.7 441.5L189.2 444.7L191 441.5L189.2 438.3Z" fill="#2a2a2a"/>
</svg>
<div id="frame2"></div><div id="frame"></div>
</body></html>
